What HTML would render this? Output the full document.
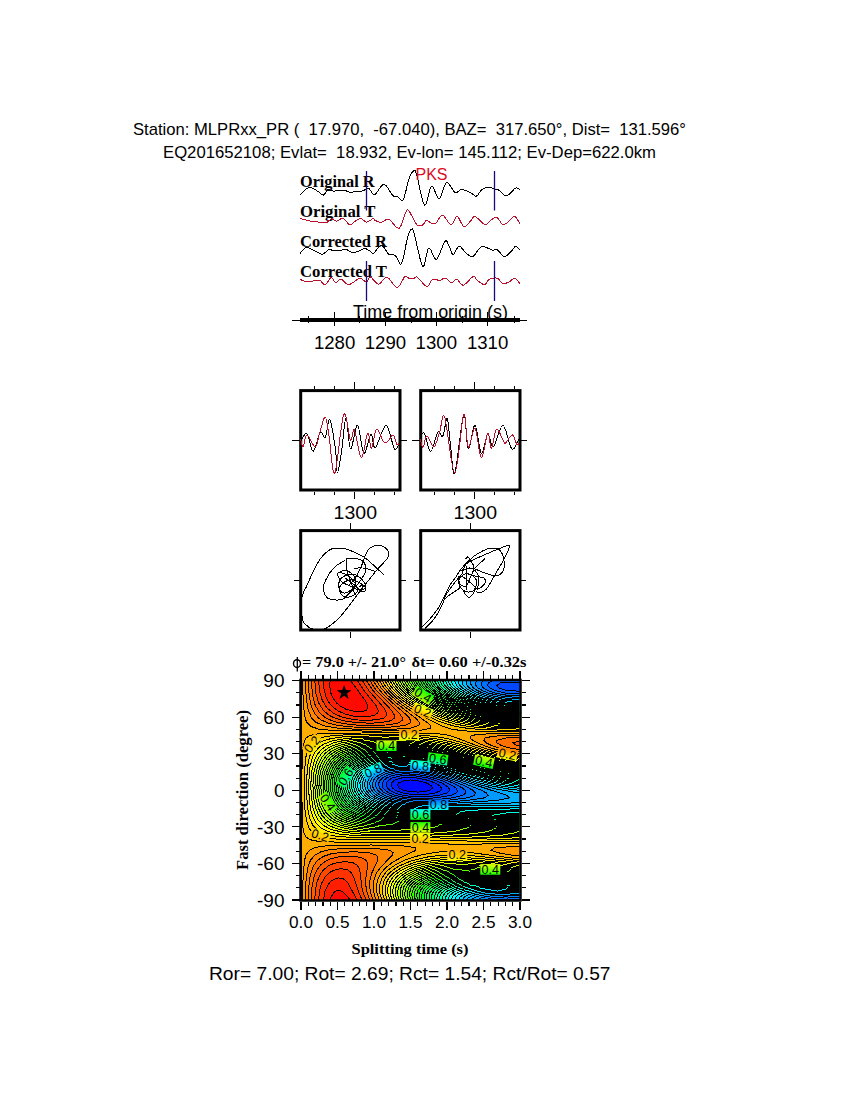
<!DOCTYPE html>
<html><head><meta charset="utf-8"><style>html,body{margin:0;padding:0;background:#fff;width:850px;height:1100px;overflow:hidden}svg{display:block}</style></head>
<body><svg width="850" height="1100" viewBox="0 0 850 1100">
<rect width="850" height="1100" fill="#fff"/>
<text x="133" y="134.9" font-family='"Liberation Sans", sans-serif' font-size="16.6" font-weight="normal" fill="#000" text-anchor="start" textLength="553" lengthAdjust="spacingAndGlyphs" xml:space="preserve">Station: MLPRxx_PR (  17.970,  -67.040), BAZ=  317.650°, Dist=  131.596°</text>
<text x="163" y="157.5" font-family='"Liberation Sans", sans-serif' font-size="16.6" font-weight="normal" fill="#000" text-anchor="start" textLength="493" lengthAdjust="spacingAndGlyphs" xml:space="preserve">EQ201652108; Evlat=  18.932, Ev-lon= 145.112; Ev-Dep=622.0km</text>
<text x="300" y="186.8" font-family='"Liberation Serif", serif' font-size="16" font-weight="bold" fill="#000" text-anchor="start" textLength="74.5" lengthAdjust="spacingAndGlyphs" >Original R</text>
<text x="300" y="216.6" font-family='"Liberation Serif", serif' font-size="16" font-weight="bold" fill="#000" text-anchor="start" textLength="75.5" lengthAdjust="spacingAndGlyphs" >Original T</text>
<text x="300" y="246.9" font-family='"Liberation Serif", serif' font-size="16" font-weight="bold" fill="#000" text-anchor="start" textLength="87" lengthAdjust="spacingAndGlyphs" >Corrected R</text>
<text x="300" y="276.6" font-family='"Liberation Serif", serif' font-size="16" font-weight="bold" fill="#000" text-anchor="start" textLength="87" lengthAdjust="spacingAndGlyphs" >Corrected T</text>
<path d="M300.2,194.9C301.7,193.7 306.2,188.0 309.1,187.4C312.0,186.8 315.2,189.9 317.6,191.2C320.0,192.5 321.5,195.4 323.2,195.2C324.9,195.0 326.2,190.5 327.9,189.8C329.6,189.1 332.0,191.1 333.6,191.2C335.2,191.3 335.5,190.3 337.4,190.2C339.3,190.1 342.9,190.1 344.9,190.5C346.9,190.9 348.4,192.1 349.6,192.4C350.9,192.7 350.5,192.3 352.4,192.1C354.3,191.9 359.0,191.5 360.9,191.2C362.8,190.9 362.5,190.8 363.8,190.4C365.1,190.0 367.1,187.8 368.9,188.5C370.7,189.2 372.1,195.3 374.6,194.6C377.1,193.9 380.9,184.1 384.0,184.3C387.1,184.5 390.6,193.6 392.9,195.6C395.2,197.6 395.9,195.9 397.6,196.5C399.3,197.1 401.4,202.3 403.3,199.4C405.2,196.5 407.2,183.8 408.9,179.1C410.5,174.4 411.9,172.1 413.2,171.2C414.5,170.3 414.6,168.3 416.5,173.9C418.4,179.5 422.0,202.9 424.5,205.0C427.0,207.1 429.1,187.2 431.5,186.2C433.9,185.1 436.7,199.3 439.2,198.7C441.7,198.1 444.0,183.5 446.6,182.5C449.2,181.5 452.6,191.3 455.1,192.5C457.6,193.7 459.0,189.4 461.5,189.4C464.0,189.4 467.4,191.2 469.9,192.3C472.4,193.4 474.4,196.6 476.3,196.2C478.2,195.8 479.5,191.4 481.6,189.9C483.7,188.4 486.9,187.3 489.0,187.2C491.1,187.1 492.7,188.6 494.3,189.1C495.9,189.6 496.7,188.8 498.5,189.9C500.3,191.0 503.1,194.8 504.9,195.5C506.7,196.2 507.3,195.6 509.1,194.4C510.9,193.2 513.7,188.9 515.5,188.1C517.3,187.3 519.0,189.3 519.7,189.6" fill="none" stroke="#000" stroke-width="1" shape-rendering="crispEdges"/>
<path d="M300.2,218.4C301.2,218.7 304.5,219.7 306.3,220.2C308.1,220.7 309.3,220.9 311.0,221.2C312.7,221.5 314.6,221.6 316.6,221.8C318.6,222.0 321.5,222.5 323.2,222.6C324.9,222.7 325.6,223.0 327.0,222.4C328.4,221.8 330.1,219.0 331.7,218.8C333.3,218.6 334.5,221.3 336.4,221.2C338.3,221.1 340.8,217.8 343.0,218.4C345.2,219.0 347.6,224.2 349.6,224.7C351.6,225.2 353.3,222.2 355.2,221.2C357.1,220.2 359.0,218.4 360.9,218.6C362.8,218.8 364.5,222.1 366.5,222.1C368.5,222.1 371.7,218.9 373.1,218.6C374.5,218.3 373.3,219.6 374.7,220.2C376.1,220.8 378.9,222.6 381.3,222.4C383.7,222.2 385.8,218.3 388.8,219.3C391.8,220.3 396.2,229.7 399.2,228.2C402.2,226.7 404.7,212.6 406.7,210.4C408.7,208.2 409.7,212.7 411.4,215.1C413.1,217.5 415.2,223.3 417.1,224.9C419.0,226.5 421.1,225.7 422.7,224.9C424.3,224.1 425.1,220.5 426.5,220.2C427.9,219.9 429.6,222.6 431.2,223.1C432.8,223.6 434.0,224.4 435.9,223.1C437.8,221.8 440.0,214.8 442.5,215.1C445.0,215.4 448.7,224.5 451.1,224.7C453.6,224.9 455.1,216.2 457.2,216.5C459.3,216.8 461.6,225.7 463.8,226.5C466.0,227.3 468.5,222.9 470.4,221.2C472.3,219.5 472.7,215.9 475.1,216.5C477.5,217.1 482.5,224.0 485.0,224.7C487.5,225.4 488.2,221.9 490.2,220.7C492.2,219.5 494.7,216.7 496.8,217.4C498.9,218.1 500.9,224.1 502.9,224.7C504.9,225.3 507.1,222.6 509.0,221.2C510.9,219.8 512.8,216.1 514.6,216.5C516.4,216.9 518.9,222.3 519.8,223.5" fill="none" stroke="#b8102a" stroke-width="1" shape-rendering="crispEdges"/>
<path d="M300.2,253.2C301.2,252.3 304.0,248.1 306.3,247.6C308.6,247.1 311.1,249.3 313.8,250.4C316.5,251.5 319.8,254.3 322.3,254.2C324.8,254.1 326.9,250.2 328.9,249.7C330.9,249.1 332.6,250.8 334.5,250.9C336.4,251.0 338.3,250.7 340.2,250.4C342.1,250.1 343.9,249.0 345.8,249.3C347.7,249.6 349.6,251.9 351.5,252.3C353.4,252.7 354.9,252.4 357.1,251.8C359.3,251.2 362.4,248.6 364.6,248.5C366.8,248.4 368.8,250.6 370.3,251.4C371.8,252.2 372.0,254.2 373.8,253.2C375.6,252.2 378.8,245.0 381.3,245.2C383.8,245.4 386.5,252.5 388.8,254.2C391.1,255.9 393.3,254.0 395.4,255.6C397.5,257.2 399.5,266.7 401.5,263.6C403.5,260.5 406.0,242.9 407.6,237.2C409.2,231.5 410.3,229.8 411.4,229.2C412.5,228.6 412.3,227.3 414.2,233.5C416.1,239.7 420.3,263.9 422.7,266.3C425.1,268.7 426.5,249.3 428.8,248.1C431.1,246.9 433.7,260.4 436.4,259.3C439.1,258.2 442.7,243.8 444.8,241.5C446.9,239.2 447.4,243.0 448.8,245.2C450.2,247.4 451.3,254.4 453.0,254.6C454.7,254.8 457.0,246.5 459.1,246.2C461.2,245.9 463.4,251.1 465.7,252.8C468.0,254.5 470.3,257.4 472.8,256.5C475.3,255.6 478.2,248.5 480.8,247.1C483.4,245.7 486.3,247.8 488.3,248.3C490.3,248.9 491.6,250.2 493.0,250.4C494.4,250.6 494.9,248.3 496.8,249.3C498.7,250.3 502.0,256.1 504.3,256.5C506.6,256.9 509.0,253.5 510.9,251.8C512.8,250.1 514.1,246.5 515.6,246.2C517.1,245.8 519.1,249.1 519.8,249.7" fill="none" stroke="#000" stroke-width="1" shape-rendering="crispEdges"/>
<path d="M300.2,279.3C300.9,279.6 302.4,280.9 304.4,281.2C306.3,281.5 309.4,281.4 311.9,281.2C314.4,281.0 317.3,279.6 319.5,280.2C321.7,280.8 323.2,285.2 325.1,284.7C327.1,284.2 329.5,277.8 331.2,277.4C332.9,277.0 333.9,282.3 335.5,282.6C337.1,282.9 338.9,279.0 341.1,279.3C343.3,279.6 345.5,284.9 348.6,284.7C351.7,284.5 356.9,278.8 359.9,278.4C362.9,278.0 364.8,282.4 366.5,282.1C368.2,281.9 368.3,276.5 370.3,276.9C372.3,277.2 375.7,284.2 378.5,284.2C381.3,284.2 383.8,276.6 386.9,277.1C390.0,277.7 394.3,287.6 397.3,287.5C400.3,287.4 402.9,278.1 404.8,276.5C406.7,274.9 407.2,277.7 408.6,278.1C410.0,278.5 411.9,279.2 413.3,279.0C414.7,278.8 414.8,275.9 417.1,277.1C419.4,278.4 424.3,286.1 426.9,286.5C429.5,286.9 430.5,280.3 432.6,279.3C434.7,278.3 437.5,280.6 439.6,280.4C441.7,280.2 443.3,277.7 445.3,278.1C447.3,278.5 449.7,282.4 451.6,282.6C453.5,282.8 454.8,278.9 456.8,279.3C458.8,279.7 460.7,285.7 463.4,285.2C466.1,284.7 470.9,277.3 473.2,276.5C475.5,275.7 475.1,278.8 477.0,280.2C478.9,281.6 482.5,284.8 484.5,284.7C486.5,284.6 487.0,280.4 489.2,279.3C491.4,278.2 495.5,277.7 497.7,278.4C499.9,279.1 500.5,282.7 502.4,283.3C504.3,283.9 507.0,283.0 509.0,282.1C511.0,281.2 512.8,277.9 514.6,278.1C516.4,278.3 518.9,282.6 519.8,283.5" fill="none" stroke="#b8102a" stroke-width="1" shape-rendering="crispEdges"/>
<text x="415.5" y="179.8" font-family='"Liberation Sans", sans-serif' font-size="16" font-weight="normal" fill="#dc0a1e" text-anchor="start" >PKS</text>
<line x1="366.5" y1="171" x2="366.5" y2="210.5" stroke="#160a7c" stroke-width="1.3"/>
<line x1="366.5" y1="261" x2="366.5" y2="301" stroke="#160a7c" stroke-width="1.3"/>
<line x1="494.5" y1="171" x2="494.5" y2="210.5" stroke="#160a7c" stroke-width="1.3"/>
<line x1="494.5" y1="261" x2="494.5" y2="301" stroke="#160a7c" stroke-width="1.3"/>
<text x="353" y="317.6" font-family='"Liberation Sans", sans-serif' font-size="18" font-weight="normal" fill="#000" text-anchor="start" textLength="155" lengthAdjust="spacingAndGlyphs" >Time from origin (s)</text>
<line x1="292" y1="320" x2="527" y2="320" stroke="#000" stroke-width="1" shape-rendering="crispEdges"/>
<rect x="300" y="318" width="220" height="4" fill="#000"/>
<line x1="334.6" y1="312" x2="334.6" y2="326" stroke="#000" stroke-width="1.2" shape-rendering="crispEdges"/>
<line x1="385.4" y1="312" x2="385.4" y2="326" stroke="#000" stroke-width="1.2" shape-rendering="crispEdges"/>
<line x1="436.3" y1="312" x2="436.3" y2="326" stroke="#000" stroke-width="1.2" shape-rendering="crispEdges"/>
<line x1="487.6" y1="312" x2="487.6" y2="326" stroke="#000" stroke-width="1.2" shape-rendering="crispEdges"/>
<line x1="308.4" y1="316" x2="308.4" y2="323" stroke="#000" stroke-width="1.2" shape-rendering="crispEdges"/>
<line x1="359.2" y1="316" x2="359.2" y2="323" stroke="#000" stroke-width="1.2" shape-rendering="crispEdges"/>
<line x1="411.4" y1="316" x2="411.4" y2="323" stroke="#000" stroke-width="1.2" shape-rendering="crispEdges"/>
<line x1="462.2" y1="316" x2="462.2" y2="323" stroke="#000" stroke-width="1.2" shape-rendering="crispEdges"/>
<line x1="514.5" y1="316" x2="514.5" y2="323" stroke="#000" stroke-width="1.2" shape-rendering="crispEdges"/>
<text x="313.90000000000003" y="348.6" font-family='"Liberation Sans", sans-serif' font-size="18.5" font-weight="normal" fill="#000" text-anchor="start" textLength="41.4" lengthAdjust="spacingAndGlyphs" >1280</text>
<text x="364.7" y="348.6" font-family='"Liberation Sans", sans-serif' font-size="18.5" font-weight="normal" fill="#000" text-anchor="start" textLength="41.4" lengthAdjust="spacingAndGlyphs" >1290</text>
<text x="415.6" y="348.6" font-family='"Liberation Sans", sans-serif' font-size="18.5" font-weight="normal" fill="#000" text-anchor="start" textLength="41.4" lengthAdjust="spacingAndGlyphs" >1300</text>
<text x="466.90000000000003" y="348.6" font-family='"Liberation Sans", sans-serif' font-size="18.5" font-weight="normal" fill="#000" text-anchor="start" textLength="41.4" lengthAdjust="spacingAndGlyphs" >1310</text>
<rect x="300.7" y="390.6" width="99.3" height="99.4" fill="none" stroke="#000" stroke-width="3"/>
<line x1="314.7" y1="386" x2="314.7" y2="389" stroke="#000" stroke-width="1.2" shape-rendering="crispEdges"/>
<line x1="314.7" y1="492" x2="314.7" y2="495" stroke="#000" stroke-width="1.2" shape-rendering="crispEdges"/>
<line x1="334.5" y1="386" x2="334.5" y2="389" stroke="#000" stroke-width="1.2" shape-rendering="crispEdges"/>
<line x1="334.5" y1="492" x2="334.5" y2="495" stroke="#000" stroke-width="1.2" shape-rendering="crispEdges"/>
<line x1="354.5" y1="382" x2="354.5" y2="389" stroke="#000" stroke-width="1.2" shape-rendering="crispEdges"/>
<line x1="354.5" y1="492" x2="354.5" y2="499" stroke="#000" stroke-width="1.2" shape-rendering="crispEdges"/>
<line x1="374.4" y1="386" x2="374.4" y2="389" stroke="#000" stroke-width="1.2" shape-rendering="crispEdges"/>
<line x1="374.4" y1="492" x2="374.4" y2="495" stroke="#000" stroke-width="1.2" shape-rendering="crispEdges"/>
<line x1="394.5" y1="386" x2="394.5" y2="389" stroke="#000" stroke-width="1.2" shape-rendering="crispEdges"/>
<line x1="394.5" y1="492" x2="394.5" y2="495" stroke="#000" stroke-width="1.2" shape-rendering="crispEdges"/>
<line x1="292" y1="440.4" x2="300" y2="440.4" stroke="#000" stroke-width="1.2" shape-rendering="crispEdges"/>
<line x1="401" y1="440.4" x2="407" y2="440.4" stroke="#000" stroke-width="1.2" shape-rendering="crispEdges"/>
<text x="333.6" y="519" font-family='"Liberation Sans", sans-serif' font-size="18.5" font-weight="normal" fill="#000" text-anchor="start" textLength="43.4" lengthAdjust="spacingAndGlyphs" >1300</text>
<rect x="420.7" y="390.6" width="99.3" height="99.4" fill="none" stroke="#000" stroke-width="3"/>
<line x1="434.7" y1="386" x2="434.7" y2="389" stroke="#000" stroke-width="1.2" shape-rendering="crispEdges"/>
<line x1="434.7" y1="492" x2="434.7" y2="495" stroke="#000" stroke-width="1.2" shape-rendering="crispEdges"/>
<line x1="454.5" y1="386" x2="454.5" y2="389" stroke="#000" stroke-width="1.2" shape-rendering="crispEdges"/>
<line x1="454.5" y1="492" x2="454.5" y2="495" stroke="#000" stroke-width="1.2" shape-rendering="crispEdges"/>
<line x1="474.5" y1="382" x2="474.5" y2="389" stroke="#000" stroke-width="1.2" shape-rendering="crispEdges"/>
<line x1="474.5" y1="492" x2="474.5" y2="499" stroke="#000" stroke-width="1.2" shape-rendering="crispEdges"/>
<line x1="494.4" y1="386" x2="494.4" y2="389" stroke="#000" stroke-width="1.2" shape-rendering="crispEdges"/>
<line x1="494.4" y1="492" x2="494.4" y2="495" stroke="#000" stroke-width="1.2" shape-rendering="crispEdges"/>
<line x1="514.5" y1="386" x2="514.5" y2="389" stroke="#000" stroke-width="1.2" shape-rendering="crispEdges"/>
<line x1="514.5" y1="492" x2="514.5" y2="495" stroke="#000" stroke-width="1.2" shape-rendering="crispEdges"/>
<line x1="412" y1="440.4" x2="420" y2="440.4" stroke="#000" stroke-width="1.2" shape-rendering="crispEdges"/>
<line x1="521" y1="440.4" x2="527" y2="440.4" stroke="#000" stroke-width="1.2" shape-rendering="crispEdges"/>
<text x="453.6" y="519" font-family='"Liberation Sans", sans-serif' font-size="18.5" font-weight="normal" fill="#000" text-anchor="start" textLength="43.4" lengthAdjust="spacingAndGlyphs" >1300</text>
<path d="M300.5,441.8C301.6,440.4 304.8,432.0 306.9,433.6C309.0,435.2 311.0,451.6 313.2,451.4C315.4,451.2 318.2,434.6 320.2,432.3C322.2,430.0 323.7,439.5 325.3,437.4C326.9,435.3 328.1,417.6 329.8,419.6C331.5,421.6 334.2,440.6 335.5,449.5C336.8,458.4 336.3,473.0 337.4,473.0C338.4,473.0 340.4,458.7 341.8,449.5C343.2,440.3 344.6,417.8 346.0,417.7C347.4,417.6 348.6,447.5 350.5,448.8C352.4,450.1 355.3,424.6 357.5,425.3C359.7,426.1 361.7,451.8 363.9,453.3C366.1,454.8 369.0,435.1 370.9,434.2C372.8,433.2 372.8,449.1 375.3,447.6C377.8,446.1 382.9,425.1 386.1,425.3C389.3,425.5 392.2,445.9 394.4,448.8C396.6,451.7 398.6,443.6 399.5,442.5" fill="none" stroke="#000" stroke-width="1" shape-rendering="crispEdges"/>
<path d="M300.5,438.7C300.9,440.1 302.0,447.5 303.1,446.9C304.2,446.3 304.9,434.9 306.9,434.9C308.9,434.9 313.1,447.2 315.2,446.9C317.3,446.6 317.9,438.0 319.6,433.0C321.3,428.0 323.7,416.5 325.3,417.1C326.9,417.7 327.5,427.5 329.1,436.8C330.7,446.1 332.4,476.7 334.8,473.0C337.2,469.3 341.1,420.0 343.7,414.5C346.3,409.0 348.7,437.4 350.5,440.0C352.3,442.6 352.6,426.9 354.4,429.8C356.2,432.8 359.1,457.1 361.3,457.7C363.5,458.3 366.0,434.9 367.7,433.3C369.4,431.7 370.0,448.9 371.5,448.2C373.0,447.5 374.6,430.2 376.6,429.1C378.6,428.0 381.7,439.8 383.6,441.8C385.5,443.8 386.4,442.4 388.0,441.2C389.6,440.0 391.6,434.4 393.1,434.9C394.6,435.4 395.8,443.1 396.9,444.4C398.0,445.7 399.1,442.8 399.5,442.5" fill="none" stroke="#b8102a" stroke-width="1" shape-rendering="crispEdges"/>
<path d="M420.5,436.8C421.1,436.3 422.7,431.2 424.4,433.6C426.1,436.0 428.5,451.6 430.7,451.4C432.9,451.2 435.7,434.9 437.7,432.3C439.7,429.8 441.2,438.4 442.8,436.1C444.4,433.8 445.9,417.3 447.2,418.7C448.5,420.1 449.1,435.3 450.4,444.4C451.7,453.4 452.6,477.9 454.8,473.0C457.0,468.1 461.5,419.2 463.7,415.2C465.9,411.2 466.3,447.1 468.2,448.8C470.1,450.5 472.8,424.6 475.0,425.3C477.2,426.1 479.2,451.8 481.3,453.3C483.4,454.8 485.7,435.3 487.7,434.2C489.7,433.1 490.9,448.4 493.4,446.9C495.9,445.4 499.8,425.0 502.9,425.3C506.0,425.6 509.2,446.5 511.8,448.8C514.5,451.1 517.6,440.9 518.8,439.3" fill="none" stroke="#000" stroke-width="1" shape-rendering="crispEdges"/>
<path d="M420.5,439.3C420.9,440.6 422.0,447.7 423.1,447.2C424.2,446.7 425.1,436.2 426.9,436.1C428.7,436.1 431.8,447.5 433.9,446.9C436.0,446.3 437.8,437.3 439.6,432.3C441.4,427.3 442.2,410.3 444.7,417.1C447.2,423.9 451.6,473.4 454.8,473.0C458.0,472.6 461.5,418.8 463.7,414.5C465.9,410.2 466.3,444.7 468.2,447.0C470.1,449.3 472.8,426.7 475.0,428.5C477.2,430.3 479.2,456.8 481.3,457.7C483.4,458.6 486.0,435.2 487.7,433.6C489.4,432.0 490.0,448.9 491.5,448.2C493.0,447.4 494.5,430.1 496.6,429.1C498.7,428.2 502.5,440.4 504.2,442.5C505.9,444.6 505.4,442.8 506.8,441.5C508.2,440.2 510.8,434.4 512.5,434.9C514.2,435.4 515.7,443.1 516.9,444.4C518.1,445.7 519.1,442.8 519.5,442.5" fill="none" stroke="#b8102a" stroke-width="1" shape-rendering="crispEdges"/>
<rect x="300.7" y="530.6" width="99.3" height="99.4" fill="none" stroke="#000" stroke-width="3"/>
<line x1="350.6" y1="523" x2="350.6" y2="529" stroke="#000" stroke-width="1.2" shape-rendering="crispEdges"/>
<line x1="350.6" y1="632" x2="350.6" y2="638" stroke="#000" stroke-width="1.2" shape-rendering="crispEdges"/>
<line x1="294" y1="580.4" x2="300" y2="580.4" stroke="#000" stroke-width="1.2" shape-rendering="crispEdges"/>
<line x1="401" y1="580.4" x2="406" y2="580.4" stroke="#000" stroke-width="1.2" shape-rendering="crispEdges"/>
<rect x="420.7" y="530.6" width="99.3" height="99.4" fill="none" stroke="#000" stroke-width="3"/>
<line x1="470.6" y1="523" x2="470.6" y2="529" stroke="#000" stroke-width="1.2" shape-rendering="crispEdges"/>
<line x1="470.6" y1="632" x2="470.6" y2="638" stroke="#000" stroke-width="1.2" shape-rendering="crispEdges"/>
<line x1="414" y1="580.4" x2="420" y2="580.4" stroke="#000" stroke-width="1.2" shape-rendering="crispEdges"/>
<line x1="521" y1="580.4" x2="526" y2="580.4" stroke="#000" stroke-width="1.2" shape-rendering="crispEdges"/>
<path d="M384.5,575.3C383.2,574.1 380.0,571.2 376.7,568.2C373.4,565.2 369.0,560.5 364.7,557.6C360.4,554.7 354.1,552.1 350.6,550.6C347.1,549.1 346.4,548.9 343.8,548.5C341.2,548.1 337.7,547.9 335.3,548.1C332.9,548.3 332.0,548.3 329.6,549.9C327.2,551.5 323.8,554.3 321.2,557.6C318.6,560.9 316.5,565.0 314.1,569.6C311.8,574.2 309.1,580.7 307.1,585.2C305.1,589.7 303.0,592.0 302.1,596.5C301.2,601.0 301.7,607.9 301.8,612.0C301.9,616.1 302.1,618.7 303.0,621.0C303.9,623.3 305.7,624.5 307.1,625.8C308.5,627.1 309.5,628.0 311.3,628.6C313.1,629.2 315.6,629.5 318.0,629.5C320.4,629.5 323.1,629.5 325.4,628.6C327.7,627.8 329.2,626.5 331.8,624.4C334.4,622.3 338.0,619.1 340.9,615.9C343.8,612.7 346.2,609.4 349.4,605.3C352.6,601.2 357.4,594.6 360.0,591.2C362.6,587.9 361.9,588.7 364.7,585.2C367.5,581.7 372.9,574.8 376.7,570.3C380.5,565.8 385.3,561.3 387.3,558.3C389.3,555.2 389.4,554.0 388.7,552.0C388.0,550.0 385.0,547.5 383.0,546.4C381.0,545.3 378.8,545.1 376.7,545.3C374.6,545.5 372.1,546.4 370.3,547.8C368.5,549.1 367.3,551.2 366.1,553.4C364.9,555.6 364.4,558.5 363.3,561.2C362.2,563.9 361.3,566.6 359.8,569.6C358.3,572.6 355.9,576.9 354.1,579.5C352.3,582.1 349.9,584.1 349.0,585.0" fill="none" stroke="#000" stroke-width="1" shape-rendering="crispEdges"/>
<path d="M346.6,558.3C347.1,558.3 347.7,558.2 349.4,558.3C351.1,558.4 354.8,558.3 356.9,558.7C359.0,559.1 360.5,559.4 361.9,560.5C363.3,561.6 364.8,563.5 365.4,565.4C366.0,567.3 366.1,569.4 365.4,571.8C364.7,574.1 362.7,577.1 361.2,579.5C359.7,581.9 358.2,583.6 356.2,585.9C354.2,588.1 351.7,590.8 349.4,593.0C347.1,595.2 345.5,598.2 342.3,599.3C339.1,600.3 333.1,599.9 330.3,599.3C327.5,598.7 326.6,597.5 325.4,595.5C324.2,593.5 323.5,589.0 323.3,587.0C323.1,585.0 322.9,586.1 324.0,583.8C325.1,581.5 327.5,576.3 329.6,573.2C331.7,570.1 334.1,567.5 336.7,565.4C339.3,563.3 343.8,561.3 345.2,560.5" fill="none" stroke="#000" stroke-width="1" shape-rendering="crispEdges"/>
<path d="M346.6,558.3C346.7,560.4 346.8,568.9 346.9,571.0" fill="none" stroke="#000" stroke-width="1" shape-rendering="crispEdges"/>
<path d="M354.1,568.2C355.9,568.2 361.1,567.6 364.7,568.2C368.3,568.8 374.1,571.2 376.0,571.8" fill="none" stroke="#000" stroke-width="1" shape-rendering="crispEdges"/>
<path d="M338.0,573.0C339.2,572.5 342.7,569.8 345.0,570.0C347.3,570.2 350.2,572.2 352.0,574.0C353.8,575.8 356.0,578.5 356.0,581.0C356.0,583.5 354.0,587.0 352.0,589.0C350.0,591.0 346.2,593.2 344.0,593.0C341.8,592.8 339.7,590.2 339.0,588.0C338.3,585.8 338.7,582.2 340.0,580.0C341.3,577.8 344.3,575.8 347.0,575.0C349.7,574.2 353.2,573.8 356.0,575.0C358.8,576.2 362.5,579.8 364.0,582.0C365.5,584.2 365.8,586.7 365.0,588.0C364.2,589.3 361.5,590.3 359.0,590.0C356.5,589.7 352.8,587.3 350.0,586.0C347.2,584.7 344.0,583.7 342.0,582.0C340.0,580.3 338.7,577.5 338.0,576.0C337.3,574.5 338.0,573.5 338.0,573.0" fill="none" stroke="#000" stroke-width="1" shape-rendering="crispEdges"/>
<path d="M340.0,572.0C341.7,572.8 347.3,574.8 350.0,577.0C352.7,579.2 354.8,582.5 356.0,585.0C357.2,587.5 357.7,590.2 357.0,592.0C356.3,593.8 354.0,595.2 352.0,596.0C350.0,596.8 347.0,597.7 345.0,597.0C343.0,596.3 340.7,594.0 340.0,592.0C339.3,590.0 339.3,587.0 341.0,585.0C342.7,583.0 347.2,580.5 350.0,580.0C352.8,579.5 355.8,581.0 358.0,582.0C360.2,583.0 362.7,584.3 363.0,586.0C363.3,587.7 360.5,591.0 360.0,592.0" fill="none" stroke="#000" stroke-width="1" shape-rendering="crispEdges"/>
<path d="M346.9,571.0C347.8,573.3 350.6,581.0 352.0,585.0C353.4,589.0 354.5,593.3 355.0,595.0" fill="none" stroke="#000" stroke-width="1" shape-rendering="crispEdges"/>
<path d="M345.0,578.0C347.0,579.5 354.0,584.7 357.0,587.0C360.0,589.3 361.5,591.7 363.0,592.0C364.5,592.3 366.0,590.2 366.0,589.0C366.0,587.8 364.2,585.3 363.0,585.0C361.8,584.7 359.7,586.7 359.0,587.0" fill="none" stroke="#000" stroke-width="1" shape-rendering="crispEdges"/>
<path d="M421.9,627.2C423.4,625.7 427.8,621.4 430.7,618.0C433.6,614.6 437.1,610.0 439.2,606.7C441.3,603.4 441.6,601.7 443.4,598.2C445.2,594.7 447.8,588.9 449.8,585.5C451.8,582.1 453.6,580.4 455.4,577.8C457.2,575.1 458.2,572.6 460.6,569.6C463.0,566.6 466.9,562.5 469.8,559.8C472.7,557.1 475.0,555.3 478.2,553.4C481.4,551.5 485.7,549.3 488.8,548.5C491.9,547.7 494.6,548.0 496.6,548.5C498.6,549.0 499.6,549.7 500.8,551.3C502.0,552.9 503.0,555.7 503.6,558.3C504.2,560.9 504.5,564.4 504.3,566.8C504.1,569.2 503.2,571.1 502.2,572.5C501.1,573.9 499.6,574.8 498.0,575.3C496.4,575.8 494.4,575.6 492.3,575.3C490.2,574.9 487.7,574.0 485.3,573.2C482.9,572.4 480.6,571.1 478.2,570.3C475.8,569.5 474.0,568.2 471.2,568.2C468.4,568.2 462.9,569.9 461.3,570.3" fill="none" stroke="#000" stroke-width="1" shape-rendering="crispEdges"/>
<path d="M425.1,628.6C426.6,627.0 431.5,622.4 434.2,618.7C436.9,615.1 439.3,610.7 441.3,606.7C443.3,602.7 444.4,598.1 446.2,594.7C448.0,591.3 450.0,588.8 451.9,586.2C453.8,583.6 455.9,581.2 457.5,579.2C459.1,577.2 460.4,576.7 461.8,574.2C463.2,571.7 463.5,566.8 466.2,564.0C468.9,561.2 474.3,559.5 478.2,557.6C482.1,555.7 486.0,554.2 489.5,552.7C493.0,551.2 496.2,549.7 499.4,548.5C502.6,547.3 507.1,545.2 508.6,545.3C510.1,545.4 509.4,546.8 508.6,549.2C507.8,551.6 505.4,556.4 503.6,559.8C501.8,563.2 499.9,566.3 498.0,569.6C496.1,572.9 494.2,576.3 492.3,579.5C490.4,582.7 488.7,586.5 486.7,588.7C484.7,590.9 482.1,592.4 480.3,592.9C478.5,593.4 476.8,591.7 476.1,591.5" fill="none" stroke="#000" stroke-width="1" shape-rendering="crispEdges"/>
<path d="M444.1,599.6C445.1,598.8 447.6,596.3 449.8,594.7C452.0,593.1 455.6,591.2 457.5,589.8C459.4,588.3 460.4,586.6 461.0,586.0" fill="none" stroke="#000" stroke-width="1" shape-rendering="crispEdges"/>
<path d="M485.3,558.3C483.5,559.9 476.5,566.6 474.7,568.2" fill="none" stroke="#000" stroke-width="1" shape-rendering="crispEdges"/>
<path d="M461.0,571.0C462.5,570.5 467.3,567.7 470.0,568.0C472.7,568.3 475.5,570.8 477.0,573.0C478.5,575.2 479.2,578.3 479.0,581.0C478.8,583.7 477.8,587.2 476.0,589.0C474.2,590.8 470.5,592.2 468.0,592.0C465.5,591.8 462.5,590.0 461.0,588.0C459.5,586.0 458.3,582.3 459.0,580.0C459.7,577.7 462.7,574.7 465.0,574.0C467.3,573.3 471.0,574.5 473.0,576.0C475.0,577.5 476.8,580.7 477.0,583.0C477.2,585.3 474.5,588.8 474.0,590.0" fill="none" stroke="#000" stroke-width="1" shape-rendering="crispEdges"/>
<path d="M463.2,591.2C464.1,592.2 467.0,597.3 468.8,597.5C470.6,597.7 472.7,594.1 473.8,592.6C474.9,591.1 474.3,589.5 475.4,588.7C476.5,587.9 478.6,589.1 480.3,588.0C482.0,586.9 484.7,583.9 485.3,582.3C485.9,580.6 485.5,579.1 483.9,578.1C482.2,577.1 478.0,576.7 475.4,576.0C472.8,575.3 469.2,574.3 468.0,574.0" fill="none" stroke="#000" stroke-width="1" shape-rendering="crispEdges"/>
<path d="M465.5,559.0C465.9,558.7 466.8,556.8 467.6,557.0C468.4,557.2 469.4,558.7 470.5,560.5C471.6,562.3 474.1,565.1 474.0,568.0C473.9,570.9 471.3,575.0 470.0,578.0C468.7,581.0 467.7,585.0 466.0,586.0C464.3,587.0 461.3,585.7 460.0,584.0C458.7,582.3 458.3,577.3 458.0,576.0" fill="none" stroke="#000" stroke-width="1" shape-rendering="crispEdges"/>
<path d="M462.0,576.0C463.7,577.3 469.3,581.7 472.0,584.0C474.7,586.3 477.0,589.0 478.0,590.0" fill="none" stroke="#000" stroke-width="1" shape-rendering="crispEdges"/>
<path d="M466.0,566.0C466.0,570.0 466.0,586.0 466.0,590.0" fill="none" stroke="#000" stroke-width="1" shape-rendering="crispEdges"/>
<defs><clipPath id="mclip"><rect x="301.6" y="681.1" width="217.8" height="218.6"/></clipPath><mask id="lmask" maskUnits="userSpaceOnUse" x="290" y="670" width="240" height="240"><rect x="290" y="670" width="240" height="240" fill="#fff"/><rect transform="translate(422.9,695.4) rotate(31)" x="-10" y="-5.3" width="20" height="10.6" fill="#000"/><rect transform="translate(422.6,710.9) rotate(22)" x="-10" y="-5.3" width="20" height="10.6" fill="#000"/><rect transform="translate(409.1,734.9) rotate(0)" x="-10" y="-5.3" width="20" height="10.6" fill="#000"/><rect transform="translate(386.5,745.7) rotate(0)" x="-10" y="-5.3" width="20" height="10.6" fill="#000"/><rect transform="translate(312.0,744.2) rotate(-50)" x="-10" y="-5.3" width="20" height="10.6" fill="#000"/><rect transform="translate(437.8,758.9) rotate(8)" x="-10" y="-5.3" width="20" height="10.6" fill="#000"/><rect transform="translate(420.3,765.9) rotate(5)" x="-10" y="-5.3" width="20" height="10.6" fill="#000"/><rect transform="translate(483.9,761.7) rotate(12)" x="-10" y="-5.3" width="20" height="10.6" fill="#000"/><rect transform="translate(507.4,754.2) rotate(12)" x="-10" y="-5.3" width="20" height="10.6" fill="#000"/><rect transform="translate(345.8,776.9) rotate(-57)" x="-10" y="-5.3" width="20" height="10.6" fill="#000"/><rect transform="translate(373.1,770.9) rotate(-25)" x="-10" y="-5.3" width="20" height="10.6" fill="#000"/><rect transform="translate(327.8,802.5) rotate(54)" x="-10" y="-5.3" width="20" height="10.6" fill="#000"/><rect transform="translate(438.5,804.7) rotate(0)" x="-10" y="-5.3" width="20" height="10.6" fill="#000"/><rect transform="translate(420.4,814.4) rotate(0)" x="-10" y="-5.3" width="20" height="10.6" fill="#000"/><rect transform="translate(420.4,827.4) rotate(0)" x="-10" y="-5.3" width="20" height="10.6" fill="#000"/><rect transform="translate(420.1,838.4) rotate(0)" x="-10" y="-5.3" width="20" height="10.6" fill="#000"/><rect transform="translate(320.2,835.3) rotate(18)" x="-10" y="-5.3" width="20" height="10.6" fill="#000"/><rect transform="translate(457.3,854.9) rotate(0)" x="-10" y="-5.3" width="20" height="10.6" fill="#000"/><rect transform="translate(490.3,869.4) rotate(0)" x="-10" y="-5.3" width="20" height="10.6" fill="#000"/></mask></defs><rect x="301" y="680.5" width="219" height="219.79999999999995" fill="#ff0a00"/><g fill-rule="evenodd"><path fill="#ff1f00" d="M520.0,900.3 350.5,900.3 345.8,894.5 343.3,892.2 340.8,890.9 338.3,890.4 335.8,891.1 333.4,893.0 330.9,897.5 330.2,900.3 301.0,900.3 301.0,680.5 330.2,680.5 329.7,685.5 330.8,693.0 332.9,698.0 336.6,703.0 340.8,706.5 345.8,709.1 350.8,710.7 358.2,711.7 363.2,711.3 365.9,710.5 368.0,708.0 367.9,705.5 365.3,700.5 350.5,680.5 520.0,680.5 520.0,900.3Z"/><path fill="#ff3300" d="M520.0,900.3 357.3,900.3 347.8,882.8 345.8,880.6 343.3,878.9 338.3,877.9 333.4,879.5 330.9,881.3 328.4,884.0 325.2,890.3 323.4,900.3 301.0,900.3 301.0,680.5 323.4,680.5 323.7,688.0 325.9,696.8 329.2,703.0 333.4,707.6 338.3,711.1 345.8,714.2 353.3,716.0 363.2,716.8 368.2,716.6 374.2,715.5 377.8,713.0 378.3,710.5 376.0,705.5 364.0,690.5 357.3,680.5 520.0,680.5 520.0,900.3Z"/><path fill="#ff4700" d="M520.0,900.3 362.3,900.3 358.9,892.8 354.1,877.8 351.4,872.8 348.3,870.2 345.8,869.3 340.8,868.7 335.8,869.5 330.9,871.7 328.4,873.5 324.5,877.8 321.9,882.8 320.2,887.8 319.2,892.8 318.7,900.3 301.0,900.3 301.0,680.5 318.7,680.5 319.4,690.5 322.3,700.5 327.0,708.0 333.4,713.2 340.8,716.6 348.3,718.6 358.2,720.0 368.2,720.4 378.1,719.5 383.8,718.0 386.5,715.5 386.7,713.0 384.0,708.0 368.8,690.5 362.3,680.5 520.0,680.5 520.0,900.3Z"/><path fill="#ff5c00" d="M520.0,900.3 366.4,900.3 364.1,895.3 361.9,887.8 360.2,872.8 359.0,867.8 357.2,865.3 353.3,862.9 345.8,861.7 338.3,862.3 333.4,863.6 328.4,865.9 323.0,870.3 319.6,875.3 316.8,882.8 315.3,890.3 314.8,900.3 301.0,900.3 301.0,680.5 314.8,680.5 315.8,693.0 318.7,703.0 323.4,710.5 329.4,715.5 335.8,718.5 345.8,721.2 358.2,722.7 370.7,723.2 380.6,722.7 390.6,720.8 394.5,718.0 394.6,715.5 391.7,710.5 372.9,690.5 366.4,680.5 520.0,680.5 520.0,900.3Z"/><path fill="#ff7000" d="M520.0,900.3 370.0,900.3 367.1,892.8 365.8,885.3 365.9,877.8 367.4,867.8 367.4,862.8 366.1,860.3 361.8,857.8 355.8,856.6 348.3,856.2 338.3,857.0 330.9,858.8 325.9,860.9 320.9,864.6 316.6,870.3 313.7,877.8 311.9,887.8 311.3,900.3 301.0,900.3 301.0,680.5 311.3,680.5 312.6,695.5 315.3,705.5 319.8,713.0 325.8,718.0 333.4,721.3 343.3,723.6 355.8,725.0 370.7,725.5 385.6,725.0 395.6,723.6 398.3,723.0 402.1,720.5 402.5,718.0 399.3,713.0 378.7,693.0 374.6,688.0 370.0,680.5 520.0,680.5 520.0,740.8 512.8,742.9 516.6,745.4 520.0,746.0 520.0,900.3Z"/><path fill="#ff8500" d="M520.0,900.3 373.3,900.3 371.3,895.3 370.1,890.3 369.6,885.3 369.9,880.3 371.9,872.8 377.7,860.3 378.1,857.8 376.6,855.3 370.7,853.1 363.2,852.2 353.3,851.8 340.8,852.4 330.9,853.9 323.4,856.4 317.5,860.3 313.4,865.9 310.3,875.3 308.6,887.8 308.2,900.3 301.0,900.3 301.0,680.5 308.2,680.5 309.2,695.5 311.1,705.5 314.3,713.0 318.4,718.0 320.9,719.8 328.4,723.3 338.3,725.5 353.3,727.0 373.2,727.6 390.6,727.1 404.7,725.5 410.0,723.0 410.5,720.5 409.3,718.0 407.1,715.5 390.6,701.2 382.1,693.0 376.2,685.5 373.3,680.5 520.0,680.5 520.0,737.3 506.7,737.9 496.9,740.4 496.9,742.9 501.1,745.4 508.9,747.9 520.0,749.7 520.0,900.3Z"/><path fill="#ff9900" d="M520.0,900.3 376.4,900.3 374.4,895.3 373.1,887.8 373.4,882.8 374.5,877.8 376.7,872.8 380.1,867.8 392.2,855.3 393.1,852.8 389.8,850.3 385.6,849.6 375.7,848.6 358.2,848.1 340.8,848.6 328.4,849.9 320.9,851.8 314.5,855.3 310.5,860.3 308.5,865.3 307.3,870.3 305.8,882.8 305.4,900.3 301.0,900.3 301.0,680.5 305.4,680.5 306.2,698.0 308.3,710.5 311.6,718.0 315.9,722.3 323.4,725.7 335.8,727.9 353.3,729.1 375.7,729.4 395.6,729.1 410.9,728.0 418.8,725.5 419.4,723.0 417.9,720.5 415.4,718.0 395.6,702.5 387.7,695.5 381.1,688.0 376.4,680.5 520.0,680.5 520.0,735.0 502.7,735.5 492.6,736.4 485.0,737.9 483.7,740.4 486.4,742.9 491.3,745.4 498.2,747.9 508.5,750.4 520.0,751.9 520.0,900.3Z"/><path fill="#ffad00" d="M520.0,900.3 379.3,900.3 376.8,892.8 376.4,885.3 378.1,878.5 381.2,872.8 385.6,867.8 393.1,861.9 403.0,856.5 415.9,850.3 415.3,847.8 405.5,846.1 395.6,845.3 370.7,845.0 325.9,845.9 315.9,847.3 313.4,848.1 309.3,850.3 306.0,855.1 304.5,860.3 303.1,875.3 302.7,900.3 301.0,900.3 301.0,680.5 302.7,680.5 303.2,703.0 304.6,715.5 306.0,720.5 307.3,723.0 311.0,726.5 318.4,729.0 328.4,730.1 345.8,730.9 375.7,731.1 417.9,730.5 425.4,729.6 430.8,728.0 430.5,725.5 427.9,723.0 400.5,703.7 390.8,695.5 384.0,688.0 379.3,680.5 520.0,680.5 520.0,733.3 492.6,733.6 477.7,734.5 471.4,735.5 470.0,737.9 473.0,740.4 477.5,742.9 490.2,747.9 505.1,751.7 520.0,753.7 520.0,846.0 494.3,847.8 491.2,850.3 498.4,852.8 512.2,855.3 520.0,856.1 520.0,900.3Z"/><path fill="#ffc200" d="M520.0,731.8 467.7,731.1 452.8,729.5 445.3,727.3 437.9,724.1 427.9,718.9 415.5,711.5 403.0,703.1 396.6,698.0 390.6,692.3 385.0,685.5 382.1,680.5 520.0,680.5 520.0,731.8ZM520.0,843.4 457.8,844.4 408.0,842.3 340.8,842.3 318.4,841.3 312.5,840.4 308.5,838.9 306.0,836.8 304.0,832.9 303.0,827.9 302.3,817.9 301.8,790.4 302.1,760.4 302.9,747.9 304.6,740.4 306.1,737.9 309.9,735.5 315.9,734.1 323.4,733.5 385.6,732.7 437.9,733.7 445.3,734.6 452.8,736.4 476.2,745.4 491.7,750.4 505.1,753.4 520.0,755.3 520.0,843.4ZM520.0,900.3 382.1,900.3 379.7,892.8 379.6,885.3 382.0,877.8 385.5,872.8 387.9,870.3 395.6,864.6 405.5,859.8 413.0,857.2 422.9,854.6 437.9,852.1 452.8,851.2 465.2,851.8 509.6,857.8 520.0,858.7 520.0,900.3Z"/><path fill="#ffd600" d="M520.0,730.4 490.1,729.9 470.2,728.7 455.3,726.5 440.4,721.9 430.4,717.4 420.5,712.1 403.0,700.7 396.6,695.5 391.6,690.5 387.7,685.5 384.8,680.5 520.0,680.5 520.0,730.4ZM520.0,841.4 475.2,841.2 410.5,839.7 350.8,839.9 330.9,838.7 323.4,837.4 316.9,835.4 312.8,832.9 308.9,827.9 306.5,820.4 305.0,810.4 304.2,790.4 304.6,770.4 306.0,756.6 308.3,747.9 311.5,742.9 315.9,739.6 323.4,737.1 330.9,735.9 345.8,734.8 365.7,734.3 413.0,734.7 432.9,736.2 447.8,738.7 457.8,741.4 485.4,750.4 495.0,752.9 508.2,755.4 520.0,756.7 520.0,841.4ZM520.0,900.3 384.8,900.3 382.4,892.8 382.2,887.8 384.2,880.3 387.4,875.3 390.6,871.9 398.1,866.5 410.5,861.1 425.4,857.3 437.9,855.6 455.3,854.9 475.2,856.0 520.0,860.7 520.0,900.3Z"/><path fill="#ffeb00" d="M520.0,729.1 492.6,728.5 470.2,726.7 455.3,724.1 440.4,719.5 422.9,711.4 405.6,700.5 399.4,695.5 394.3,690.5 390.3,685.5 387.4,680.5 520.0,680.5 520.0,729.1ZM520.0,839.7 420.5,837.6 353.3,837.7 333.4,835.9 322.2,832.9 317.7,830.4 312.9,825.4 309.6,817.9 308.0,810.4 306.6,795.4 306.7,777.9 308.1,762.9 310.7,752.9 313.4,747.9 318.4,743.2 323.4,740.7 330.9,738.6 340.8,737.1 355.8,736.1 398.1,735.8 420.5,736.9 440.4,739.4 452.8,742.3 490.1,753.2 505.1,756.3 520.0,758.0 520.0,839.7ZM520.0,900.3 387.4,900.3 385.1,892.8 385.0,887.8 387.4,880.3 390.6,875.8 393.6,872.8 403.0,866.8 415.5,862.1 430.4,858.9 445.3,857.5 462.8,857.4 482.7,858.8 520.0,862.3 520.0,900.3Z"/><path fill="#ffff00" d="M520.0,727.9 495.1,727.3 475.2,725.7 457.8,722.7 442.9,718.4 425.4,710.7 418.0,706.6 408.5,700.5 402.1,695.5 396.8,690.5 392.8,685.5 389.9,680.5 520.0,680.5 520.0,727.9ZM520.0,838.2 427.9,835.9 360.7,835.9 340.8,834.4 328.4,831.6 321.0,827.9 316.0,822.9 313.2,817.9 310.8,810.4 309.1,797.9 308.7,782.9 309.9,767.9 312.3,757.9 314.5,752.9 318.4,747.9 323.4,744.3 330.9,741.3 340.8,739.2 353.3,737.8 385.6,736.9 410.5,737.7 432.9,740.0 452.8,744.1 493.6,755.4 507.5,757.9 520.0,759.2 520.0,838.2ZM520.0,900.3 389.9,900.3 387.7,892.8 387.8,887.8 389.3,882.8 392.4,877.8 395.6,874.5 400.5,870.8 405.5,868.1 413.0,865.1 427.9,861.4 445.3,859.4 462.8,859.3 520.0,863.7 520.0,900.3Z"/><path fill="#ebff00" d="M520.0,726.9 495.1,726.1 475.2,724.3 457.8,721.1 442.9,716.6 425.4,709.0 410.5,699.9 404.7,695.5 399.4,690.5 395.2,685.5 392.3,680.5 520.0,680.5 520.0,726.9ZM520.0,836.8 430.4,834.4 363.2,834.2 343.3,832.4 330.9,829.4 323.4,825.4 318.4,820.4 315.5,815.4 313.0,807.9 311.1,795.4 310.9,782.9 312.0,770.4 314.4,760.4 316.7,755.4 320.9,749.9 325.9,746.2 333.4,743.0 340.8,741.1 353.3,739.4 383.1,738.2 410.5,739.0 432.9,741.5 447.8,744.5 492.6,756.5 505.1,758.7 520.0,760.4 520.0,836.8ZM520.0,900.3 392.3,900.3 390.6,895.3 390.2,890.3 391.1,885.3 392.2,882.8 395.6,878.0 398.1,875.5 405.5,870.5 415.5,866.4 427.9,863.3 442.9,861.4 460.3,860.9 480.2,861.8 520.0,865.1 520.0,900.3Z"/><path fill="#d6ff00" d="M520.0,725.8 495.1,724.9 475.2,722.9 457.8,719.6 442.9,715.0 425.4,707.3 410.5,698.0 404.4,693.0 400.5,689.1 397.6,685.5 394.7,680.5 520.0,680.5 520.0,725.8ZM520.0,835.5 430.4,832.9 365.7,832.5 348.3,831.1 340.8,829.7 334.5,827.9 328.4,825.1 322.4,820.4 318.7,815.4 315.6,807.9 313.6,797.9 312.9,785.4 313.8,772.9 316.3,762.9 318.5,757.9 322.0,752.9 328.1,747.9 333.4,745.4 340.8,743.1 350.8,741.2 365.7,739.9 380.6,739.4 405.5,740.0 430.4,742.6 450.3,746.6 493.8,757.9 507.6,760.2 520.0,761.4 520.0,835.5ZM520.0,900.3 394.7,900.3 393.1,895.3 392.7,890.3 393.9,885.3 395.6,882.0 399.0,877.8 403.0,874.5 408.0,871.6 415.5,868.4 430.4,864.6 445.3,862.8 462.8,862.4 480.2,863.2 520.0,866.3 520.0,900.3Z"/><path fill="#c2ff00" d="M520.0,724.8 497.6,724.0 477.7,722.0 460.3,718.8 445.3,714.4 427.9,706.9 413.1,698.0 403.0,689.2 400.0,685.5 397.1,680.5 520.0,680.5 520.0,724.8ZM520.0,834.4 437.9,831.7 368.2,831.0 350.8,829.5 338.3,826.7 330.9,823.5 325.9,819.8 322.0,815.4 318.2,807.9 315.8,797.9 314.9,787.9 315.6,775.4 317.9,765.4 321.4,757.9 325.6,752.9 330.9,749.1 335.8,746.7 343.3,744.3 353.3,742.4 365.7,741.2 380.6,740.6 408.0,741.3 430.4,743.9 447.8,747.4 490.1,758.3 505.1,761.0 520.0,762.5 520.0,834.4ZM520.0,900.3 397.1,900.3 395.5,895.3 395.3,890.3 396.6,885.3 397.9,882.8 400.5,879.5 405.5,875.3 415.5,870.3 430.4,866.2 445.3,864.3 462.8,863.8 477.7,864.4 520.0,867.5 520.0,900.3Z"/><path fill="#adff00" d="M520.0,723.8 497.6,722.9 477.7,720.9 460.3,717.5 445.3,713.0 430.4,706.7 415.7,698.0 405.5,689.3 402.3,685.5 399.4,680.5 520.0,680.5 520.0,723.8ZM520.0,833.2 437.9,830.4 370.7,829.7 353.3,828.1 340.8,825.3 333.4,822.0 327.6,817.9 323.4,812.9 319.8,805.4 317.9,797.9 316.9,787.9 317.4,777.9 319.4,767.9 322.7,760.4 326.5,755.4 330.9,751.7 337.9,747.9 345.8,745.4 355.8,743.5 368.2,742.3 380.6,741.7 405.5,742.3 427.9,744.7 447.8,748.6 492.6,759.9 507.6,762.4 520.0,763.5 520.0,833.2ZM520.0,900.3 399.4,900.3 397.9,895.3 397.8,890.3 399.3,885.3 400.8,882.8 403.0,880.1 408.0,876.1 418.0,871.2 432.9,867.3 447.8,865.5 465.2,865.1 520.0,868.6 520.0,900.3Z"/><path fill="#99ff00" d="M520.0,722.8 497.6,721.9 477.7,719.7 460.3,716.3 445.3,711.6 430.4,705.1 418.0,697.8 408.0,689.5 404.6,685.5 401.7,680.5 520.0,680.5 520.0,722.8ZM520.0,832.1 440.4,829.3 373.2,828.4 355.8,826.8 343.3,824.0 335.8,820.8 330.9,817.5 325.9,812.2 322.2,805.4 320.0,797.9 318.9,787.9 319.4,777.9 320.9,770.4 323.9,762.9 327.3,757.9 330.9,754.4 337.1,750.4 343.3,747.9 353.3,745.4 365.7,743.7 378.1,742.9 403.0,743.3 427.9,745.9 445.3,749.2 490.1,760.5 505.1,763.1 520.0,764.5 520.0,832.1ZM520.0,900.3 401.7,900.3 400.2,895.3 400.0,892.8 400.9,887.8 402.0,885.3 405.9,880.3 413.0,875.3 422.9,871.2 435.4,868.3 447.8,866.9 465.2,866.4 482.7,867.1 520.0,869.6 520.0,900.3Z"/><path fill="#85ff00" d="M520.0,721.9 500.1,721.1 480.2,719.0 465.2,716.3 447.8,711.2 432.9,704.9 420.5,697.8 410.5,689.6 406.9,685.5 404.0,680.5 520.0,680.5 520.0,721.9ZM520.0,831.0 440.4,828.2 375.7,827.1 358.2,825.5 345.8,822.8 338.3,819.7 333.4,816.6 328.4,811.6 324.6,805.4 322.1,797.9 320.9,787.9 321.4,777.9 323.1,770.4 326.4,762.9 330.2,757.9 335.8,753.4 340.8,750.7 348.3,748.0 358.2,745.9 368.2,744.7 380.6,744.0 405.5,744.5 427.9,747.0 447.8,751.0 490.1,761.5 505.1,764.1 520.0,765.5 520.0,831.0ZM520.0,900.3 404.0,900.3 402.6,895.3 402.4,892.8 403.4,887.8 404.7,885.3 409.1,880.3 417.0,875.3 425.4,872.1 437.9,869.3 450.3,868.0 465.2,867.6 485.2,868.3 520.0,870.7 520.0,900.3Z"/><path fill="#70ff00" d="M520.0,721.0 497.6,720.0 480.2,718.0 462.8,714.5 447.8,710.0 432.9,703.5 420.5,696.0 411.2,688.0 406.3,680.5 520.0,680.5 520.0,721.0ZM520.0,830.0 445.3,827.2 378.1,826.0 360.7,824.4 348.3,821.7 340.8,818.7 335.4,815.4 330.2,810.4 327.0,805.4 324.2,797.9 323.0,790.4 323.0,780.4 324.4,772.9 327.4,765.4 330.8,760.4 335.8,755.7 340.8,752.7 348.3,749.7 358.2,747.2 368.2,745.9 380.6,745.1 403.0,745.4 425.4,747.7 445.3,751.5 492.1,762.9 507.6,765.4 520.0,766.5 520.0,830.0ZM520.0,900.3 406.3,900.3 404.9,895.3 404.8,892.8 406.0,887.8 407.4,885.3 412.2,880.3 420.5,875.6 428.4,872.8 440.4,870.3 452.8,869.0 467.7,868.7 487.6,869.6 520.0,871.7 520.0,900.3Z"/><path fill="#5cff00" d="M520.0,720.1 500.1,719.2 480.2,717.0 465.2,714.0 450.3,709.6 434.6,703.0 422.1,695.5 413.5,688.0 408.6,680.5 520.0,680.5 520.0,720.1ZM520.0,828.9 447.8,826.2 380.6,824.9 363.2,823.3 350.8,820.6 343.3,817.8 335.8,813.1 331.0,807.9 328.4,803.4 325.7,795.4 324.7,787.9 324.9,780.4 326.4,772.9 329.7,765.4 333.4,760.5 338.3,756.2 343.3,753.3 350.8,750.4 360.7,748.1 370.7,746.8 383.1,746.0 405.5,746.5 427.9,749.1 445.3,752.5 490.1,763.5 505.1,766.0 520.0,767.5 520.0,828.9ZM520.0,900.3 408.6,900.3 407.2,895.3 407.2,892.8 408.6,887.8 410.2,885.3 415.5,880.3 419.7,877.8 425.4,875.3 437.9,872.1 452.8,870.3 467.7,869.8 520.0,872.7 520.0,900.3Z"/><path fill="#47ff00" d="M520.0,719.2 500.1,718.3 482.7,716.3 465.2,712.9 450.3,708.4 437.4,703.0 424.5,695.5 415.8,688.0 410.8,680.5 520.0,680.5 520.0,719.2ZM520.0,827.9 447.8,825.2 383.1,823.8 365.7,822.2 353.3,819.7 345.8,817.0 338.8,812.9 333.6,807.9 330.9,803.7 328.4,797.9 326.8,790.4 326.6,782.9 327.7,775.4 330.5,767.9 333.8,762.9 338.3,758.5 343.3,755.2 350.8,752.0 360.7,749.4 370.7,747.9 383.1,747.1 403.0,747.3 425.4,749.7 445.3,753.6 490.1,764.5 505.1,767.0 520.0,768.4 520.0,827.9ZM520.0,900.3 410.8,900.3 409.6,895.3 409.6,892.8 411.2,887.8 412.9,885.3 418.8,880.3 427.9,876.1 440.4,873.0 455.3,871.3 470.2,871.0 520.0,873.6 520.0,900.3Z"/><path fill="#33ff00" d="M520.0,718.3 500.1,717.4 482.7,715.4 467.7,712.5 452.8,708.1 437.9,701.8 427.0,695.5 418.1,688.0 415.5,684.7 413.1,680.5 520.0,680.5 520.0,718.3ZM520.0,826.9 450.3,824.2 385.6,822.8 368.2,821.3 355.8,818.8 348.3,816.2 342.1,812.9 336.3,807.9 332.7,802.9 330.4,797.9 328.7,790.4 328.5,782.9 329.7,775.4 332.7,767.9 335.8,763.5 340.8,758.8 346.4,755.4 353.3,752.7 361.9,750.4 370.7,749.1 383.1,748.1 403.0,748.3 425.4,750.7 445.3,754.6 490.1,765.5 505.1,767.9 520.0,769.4 520.0,826.9ZM520.0,900.3 413.1,900.3 411.9,895.3 412.0,892.8 413.9,887.8 415.8,885.3 422.3,880.3 430.4,876.8 442.9,873.8 455.3,872.4 470.2,872.0 520.0,874.5 520.0,900.3Z"/><path fill="#1fff00" d="M520.0,717.4 500.1,716.5 482.7,714.4 467.7,711.4 452.8,706.9 440.4,701.7 429.4,695.5 420.4,688.0 416.6,683.0 415.4,680.5 520.0,680.5 520.0,717.4ZM520.0,825.9 450.3,823.2 388.1,821.8 370.7,820.3 358.2,817.9 350.6,815.4 343.3,811.5 339.0,807.9 335.0,802.9 332.5,797.9 330.6,790.4 330.3,782.9 331.6,775.4 334.9,767.9 338.3,763.4 343.3,759.2 348.3,756.2 355.8,753.3 363.2,751.4 373.2,749.9 385.6,749.0 405.5,749.4 425.4,751.7 442.9,755.0 490.1,766.4 505.1,768.9 520.0,770.3 520.0,825.9ZM520.0,900.3 415.4,900.3 414.3,895.3 415.2,890.3 418.7,885.3 425.4,880.6 432.9,877.5 442.9,875.1 455.3,873.6 467.7,873.1 485.2,873.4 520.0,875.5 520.0,900.3Z"/><path fill="#0aff00" d="M520.0,716.6 502.6,715.8 485.2,713.8 470.2,711.0 455.3,706.7 442.9,701.6 431.9,695.5 422.7,688.0 418.9,683.0 417.7,680.5 520.0,680.5 520.0,716.6ZM520.0,824.9 450.3,822.2 390.6,820.8 373.2,819.4 360.7,817.1 353.3,814.8 345.8,811.0 340.8,807.0 337.3,802.9 334.6,797.9 332.5,790.4 332.2,782.9 332.9,777.9 334.5,772.9 338.3,766.3 343.3,761.2 348.4,757.9 355.8,754.7 363.2,752.7 373.2,751.0 385.6,750.0 405.5,750.4 425.4,752.6 442.9,756.0 490.1,767.4 505.1,769.8 520.0,771.3 520.0,824.9ZM520.0,900.3 417.7,900.3 416.6,895.3 417.8,890.3 421.6,885.3 427.9,881.2 436.9,877.8 445.3,876.0 457.8,874.5 470.2,874.1 487.6,874.5 520.0,876.4 520.0,900.3Z"/><path fill="#00ff0a" d="M520.0,715.7 502.6,714.9 485.2,712.9 470.2,710.0 455.3,705.5 442.9,700.3 430.7,693.0 425.0,688.0 422.8,685.5 420.0,680.5 520.0,680.5 520.0,715.7ZM520.0,824.0 450.3,821.3 393.1,819.9 375.7,818.5 363.2,816.3 355.8,814.1 348.3,810.5 343.3,806.8 339.7,802.9 336.7,797.9 334.4,790.4 334.1,782.9 334.8,777.9 337.7,770.4 340.8,766.0 345.8,761.4 350.8,758.4 357.9,755.4 365.7,753.4 375.7,751.8 388.1,751.0 405.5,751.3 425.4,753.6 442.9,757.0 490.1,768.4 505.1,770.8 520.0,772.2 520.0,824.0ZM520.0,900.3 420.0,900.3 419.1,895.3 420.4,890.3 424.7,885.3 432.9,880.7 440.4,878.3 450.3,876.4 462.8,875.3 475.2,875.1 492.6,875.7 520.0,877.3 520.0,900.3Z"/><path fill="#00ff1f" d="M520.0,714.8 502.6,714.0 485.2,712.0 470.2,708.9 457.8,705.2 445.3,700.2 433.1,693.0 425.4,685.8 422.3,680.5 520.0,680.5 520.0,714.8ZM520.0,823.0 452.8,820.4 395.6,819.0 378.1,817.6 365.0,815.4 358.2,813.4 351.3,810.4 345.8,806.6 342.0,802.9 338.8,797.9 336.3,790.4 335.9,782.9 336.7,777.9 339.8,770.4 343.3,765.9 348.3,761.7 353.3,758.8 360.7,755.9 368.2,754.0 378.1,752.6 388.1,751.9 405.5,752.3 425.4,754.5 442.9,757.9 490.1,769.3 505.1,771.7 520.0,773.1 520.0,823.0ZM520.0,900.3 422.3,900.3 421.5,895.3 423.1,890.3 425.0,887.8 427.9,885.3 435.4,881.4 442.9,879.1 452.8,877.3 465.2,876.3 495.1,876.8 520.0,878.2 520.0,900.3Z"/><path fill="#00ff33" d="M520.0,714.0 502.6,713.2 485.2,711.0 470.5,708.0 457.8,704.1 445.3,698.8 435.6,693.0 427.9,686.0 424.6,680.5 520.0,680.5 520.0,714.0ZM520.0,822.0 455.3,819.5 395.6,818.0 378.1,816.5 365.7,814.2 358.2,811.8 350.8,808.1 345.8,804.2 342.5,800.4 339.7,795.4 338.2,790.4 337.8,782.9 338.7,777.9 340.5,772.9 343.8,767.9 349.2,762.9 355.8,759.2 363.2,756.5 370.7,754.7 380.6,753.4 390.6,752.9 408.0,753.4 425.4,755.4 442.9,758.9 487.6,769.8 502.6,772.4 520.0,774.1 520.0,822.0ZM520.0,900.3 424.6,900.3 424.0,895.3 425.8,890.3 430.4,885.9 436.0,882.8 445.3,879.9 455.3,878.2 467.7,877.3 497.6,877.8 520.0,879.1 520.0,900.3Z"/><path fill="#00ff47" d="M520.0,713.1 502.6,712.3 487.6,710.5 472.7,707.5 460.3,703.8 447.8,698.7 438.0,693.0 432.0,688.0 428.2,683.0 427.0,680.5 520.0,680.5 520.0,713.1ZM520.0,821.0 457.8,818.6 398.1,817.1 380.6,815.7 368.2,813.5 360.7,811.3 353.4,807.9 348.3,804.1 344.8,800.4 341.8,795.4 340.2,790.4 339.7,782.9 340.6,777.9 342.6,772.9 346.1,767.9 350.8,763.8 356.5,760.4 363.2,757.8 373.2,755.4 383.1,754.2 393.1,753.8 410.5,754.5 427.9,756.8 442.9,759.8 487.6,770.8 505.1,773.7 520.0,775.1 520.0,821.0ZM520.0,900.3 427.0,900.3 426.5,895.3 427.2,892.8 428.7,890.3 432.9,886.5 440.3,882.8 449.6,880.3 460.3,878.8 472.7,878.2 505.1,879.1 520.0,880.0 520.0,900.3Z"/><path fill="#00ff5c" d="M520.0,712.2 502.6,711.4 487.6,709.6 472.7,706.5 461.1,703.0 449.1,698.0 440.5,693.0 432.9,686.3 429.5,680.5 520.0,680.5 520.0,712.2ZM520.0,819.9 457.8,817.6 400.5,816.3 383.1,814.9 371.1,812.9 363.2,810.7 356.7,807.9 350.8,804.0 347.1,800.4 343.9,795.4 342.1,790.4 341.5,785.4 341.9,780.4 343.4,775.4 346.3,770.4 350.8,765.8 355.8,762.4 363.2,759.1 370.7,757.1 380.6,755.5 390.6,754.8 408.0,755.2 425.4,757.3 442.9,760.8 487.6,771.8 502.6,774.3 520.0,776.1 520.0,819.9ZM520.0,900.3 429.5,900.3 429.0,897.8 429.9,892.8 432.9,889.0 438.5,885.3 445.0,882.8 452.8,881.0 462.8,879.8 487.6,879.3 520.0,880.9 520.0,900.3Z"/><path fill="#00ff70" d="M520.0,711.4 505.1,710.7 490.1,709.0 475.2,706.1 462.8,702.4 451.9,698.0 443.1,693.0 435.4,686.3 433.0,683.0 432.0,680.5 520.0,680.5 520.0,711.4ZM520.0,818.9 457.8,816.7 403.0,815.4 385.6,814.1 373.2,812.1 365.7,810.1 360.1,807.9 353.3,803.8 349.5,800.4 346.0,795.4 344.1,790.4 343.4,785.4 343.8,780.4 345.5,775.4 348.5,770.4 353.3,765.9 358.2,762.7 365.7,759.7 373.2,757.7 383.1,756.3 393.1,755.7 408.0,756.1 425.4,758.2 442.9,761.7 487.6,772.7 502.6,775.3 520.0,777.1 520.0,818.9ZM520.0,900.3 432.0,900.3 431.5,897.8 431.7,895.3 432.7,892.8 435.4,889.6 440.4,886.4 447.8,883.5 455.3,881.9 465.2,880.7 489.7,880.3 520.0,881.8 520.0,900.3Z"/><path fill="#00ff85" d="M520.0,710.5 505.1,709.8 490.1,708.1 476.9,705.5 465.2,702.1 454.8,698.0 445.3,692.7 440.4,688.9 437.1,685.5 434.5,680.5 520.0,680.5 520.0,710.5ZM520.0,817.9 460.3,815.8 405.5,814.5 388.1,813.3 375.7,811.4 368.2,809.5 360.7,806.5 355.8,803.6 351.9,800.4 348.1,795.4 346.1,790.4 345.3,785.4 345.8,780.4 347.5,775.4 350.8,770.4 355.8,766.0 361.0,762.9 367.4,760.4 375.7,758.4 385.6,757.1 395.6,756.7 410.5,757.3 427.9,759.6 443.9,762.9 487.6,773.8 502.6,776.3 520.0,778.1 520.0,817.9ZM520.0,900.3 434.5,900.3 434.1,897.8 435.4,893.3 437.8,890.3 442.9,887.1 450.3,884.4 457.8,882.7 467.7,881.6 492.6,881.4 520.0,882.7 520.0,900.3Z"/><path fill="#00ff99" d="M520.0,709.6 505.1,708.9 490.1,707.1 477.7,704.6 465.2,700.9 452.8,695.6 444.8,690.5 439.7,685.5 437.1,680.5 520.0,680.5 520.0,709.6ZM520.0,816.8 405.5,813.6 390.6,812.5 376.7,810.4 368.2,808.1 363.2,806.1 357.6,802.9 353.3,799.2 350.3,795.4 348.1,790.4 347.3,785.4 347.8,780.4 349.6,775.4 353.1,770.4 358.2,766.2 363.2,763.4 370.7,760.8 378.1,759.1 395.6,757.6 410.5,758.2 427.5,760.4 442.9,763.6 487.6,774.8 502.6,777.4 520.0,779.1 520.0,816.8ZM520.0,900.3 437.1,900.3 436.8,897.8 437.3,895.3 438.7,892.8 441.2,890.3 445.3,887.8 452.8,885.2 460.3,883.7 470.2,882.6 495.1,882.4 520.0,883.6 520.0,900.3Z"/><path fill="#00ffad" d="M520.0,708.7 505.1,708.0 492.6,706.5 480.2,704.2 467.3,700.5 455.5,695.5 447.5,690.5 442.3,685.5 439.8,680.5 520.0,680.5 520.0,708.7ZM520.0,815.7 408.0,812.7 390.6,811.4 378.1,809.5 371.9,807.9 365.2,805.4 360.5,802.9 354.5,797.9 352.6,795.4 350.2,790.4 349.3,785.4 349.8,780.4 351.7,775.4 355.5,770.4 360.7,766.4 365.7,763.9 373.2,761.3 380.6,759.8 398.1,758.6 413.0,759.4 427.9,761.4 445.3,765.2 487.6,775.9 505.1,778.8 520.0,780.2 520.0,815.7ZM520.0,900.3 439.8,900.3 439.6,897.8 440.2,895.3 441.9,892.8 444.8,890.3 449.7,887.8 455.3,886.0 462.8,884.6 472.7,883.6 495.1,883.4 520.0,884.5 520.0,900.3Z"/><path fill="#00ffc2" d="M520.0,707.8 505.1,707.0 492.6,705.6 480.2,703.1 470.2,700.3 458.5,695.5 450.2,690.5 444.9,685.5 442.5,680.5 520.0,680.5 520.0,707.8ZM520.0,814.5 410.5,811.8 393.1,810.7 380.6,808.8 373.2,806.9 365.7,804.0 360.7,801.1 356.9,797.9 354.8,795.4 352.2,790.4 351.3,785.4 351.8,780.4 353.3,776.6 355.6,772.9 360.7,768.3 368.2,764.3 378.1,761.4 390.6,759.8 403.0,759.6 418.0,760.9 432.9,763.3 487.6,777.0 502.6,779.6 520.0,781.4 520.0,814.5ZM520.0,900.3 442.5,900.3 442.5,897.8 443.3,895.3 445.2,892.8 447.8,890.9 452.8,888.5 457.8,886.9 465.2,885.5 475.2,884.5 497.6,884.4 520.0,885.5 520.0,900.3Z"/><path fill="#00ffd6" d="M520.0,706.8 505.1,706.1 492.6,704.5 482.7,702.6 470.2,699.0 461.6,695.5 453.0,690.5 447.7,685.5 445.4,680.5 520.0,680.5 520.0,706.8ZM520.0,813.3 413.0,811.0 395.6,809.9 383.1,808.1 375.7,806.3 368.2,803.6 363.2,800.8 359.5,797.9 357.2,795.4 354.4,790.4 353.4,785.4 353.9,780.4 356.1,775.4 360.7,770.3 368.2,765.8 378.1,762.6 390.6,760.8 403.0,760.6 415.5,761.5 430.4,763.8 490.1,778.6 505.1,781.1 520.0,782.6 520.0,813.3ZM520.0,900.3 445.4,900.3 445.5,897.8 446.5,895.3 447.8,893.8 450.3,891.8 455.3,889.4 460.4,887.8 467.7,886.5 487.6,885.3 520.0,886.5 520.0,900.3Z"/><path fill="#00ffeb" d="M520.0,705.8 507.6,705.3 492.6,703.5 480.2,700.8 470.9,698.0 464.8,695.5 455.9,690.5 450.6,685.5 449.1,683.0 448.4,680.5 520.0,680.5 520.0,705.8ZM520.0,812.0 415.5,810.1 398.1,809.0 385.6,807.4 377.1,805.4 370.7,803.1 365.5,800.4 362.1,797.9 359.6,795.4 356.6,790.4 355.8,787.4 355.5,782.9 357.0,777.9 360.7,772.6 367.2,767.9 375.7,764.5 385.6,762.5 398.1,761.6 410.5,762.0 425.4,763.9 444.2,767.9 487.6,779.3 502.6,782.0 520.0,783.8 520.0,812.0ZM520.0,900.3 448.4,900.3 448.6,897.8 450.0,895.3 452.7,892.8 457.8,890.3 470.2,887.5 490.1,886.4 520.0,887.4 520.0,900.3Z"/><path fill="#00ffff" d="M520.0,704.8 507.6,704.3 495.9,703.0 483.3,700.5 474.7,698.0 467.7,695.3 459.0,690.5 453.5,685.5 452.1,683.0 451.5,680.5 520.0,680.5 520.0,704.8ZM520.0,810.6 415.5,809.1 400.5,808.2 388.1,806.6 380.6,805.0 373.9,802.9 368.6,800.4 364.9,797.9 362.2,795.4 358.9,790.4 358.0,787.9 357.7,782.9 359.2,777.9 363.2,772.7 370.5,767.9 378.1,765.2 388.1,763.3 400.5,762.6 413.0,763.2 425.4,764.9 440.4,768.0 472.7,776.9 490.1,781.1 505.1,783.6 520.0,785.2 520.0,810.6ZM520.0,900.3 451.5,900.3 452.0,897.8 453.6,895.3 457.1,892.8 463.4,890.3 475.2,888.2 492.6,887.5 520.0,888.5 520.0,900.3Z"/><path fill="#00ebff" d="M520.0,703.8 507.6,703.3 495.1,701.7 485.2,699.7 475.2,696.7 466.4,693.0 459.0,688.0 456.7,685.5 455.2,683.0 454.8,680.5 520.0,680.5 520.0,703.8ZM520.0,809.1 420.5,808.2 403.0,807.4 390.6,805.9 378.0,802.9 372.0,800.4 367.8,797.9 364.8,795.4 361.2,790.4 360.3,787.9 359.9,782.9 361.6,777.9 365.7,772.9 373.2,768.3 380.6,765.8 390.6,764.1 400.5,763.6 410.5,764.0 422.9,765.5 442.9,769.7 487.6,781.9 502.6,784.7 520.0,786.7 520.0,809.1ZM520.0,900.3 454.8,900.3 455.5,897.8 457.7,895.3 461.9,892.8 465.2,891.7 477.7,889.3 495.1,888.6 520.0,889.5 520.0,900.3Z"/><path fill="#00d6ff" d="M520.0,702.7 507.6,702.1 495.1,700.6 483.4,698.0 475.7,695.5 470.0,693.0 462.3,688.0 459.9,685.5 458.6,683.0 458.4,680.5 520.0,680.5 520.0,702.7ZM520.0,807.4 422.9,807.2 405.5,806.5 393.1,805.1 380.6,802.3 375.6,800.4 370.7,797.8 367.6,795.4 363.6,790.4 362.6,787.9 362.2,782.9 364.0,777.9 368.5,772.9 373.2,770.0 380.6,767.2 390.6,765.3 400.5,764.7 413.0,765.2 422.9,766.5 441.4,770.4 472.7,779.5 490.1,783.9 505.1,786.7 520.0,788.4 520.0,807.4ZM520.0,900.3 458.4,900.3 459.4,897.8 462.1,895.3 467.7,892.8 480.2,890.5 495.1,889.8 520.0,890.6 520.0,900.3Z"/><path fill="#00c2ff" d="M520.0,701.6 500.1,700.2 488.5,698.0 480.0,695.5 473.8,693.0 465.7,688.0 463.4,685.5 462.2,683.0 462.2,680.5 520.0,680.5 520.0,701.6ZM517.5,805.4 425.4,806.1 408.0,805.6 395.6,804.3 388.0,802.9 380.6,800.8 374.2,797.9 370.7,795.6 366.1,790.4 365.1,787.9 364.6,782.9 366.6,777.9 370.7,773.6 376.0,770.4 383.1,767.9 390.6,766.5 400.5,765.8 410.5,766.1 420.5,767.2 440.4,771.3 475.2,781.7 492.6,786.1 507.6,788.9 520.0,790.4 520.0,805.4 517.5,805.4ZM520.0,900.3 462.2,900.3 463.6,897.8 465.2,896.6 467.2,895.3 472.7,893.4 482.7,891.7 497.6,891.0 520.0,891.8 520.0,900.3Z"/><path fill="#00adff" d="M520.0,700.4 507.6,699.8 497.6,698.5 487.6,696.3 480.2,693.8 473.1,690.5 469.5,688.0 467.2,685.5 466.1,683.0 466.4,680.5 520.0,680.5 520.0,700.4ZM515.0,802.9 430.4,805.0 413.0,804.7 398.1,803.4 384.0,800.4 377.7,797.9 373.6,795.4 368.8,790.4 367.6,787.9 367.2,782.9 369.3,777.9 371.5,775.4 375.7,772.5 383.1,769.4 390.6,767.8 398.1,767.1 408.0,767.1 418.0,767.9 430.4,770.1 442.0,772.9 477.7,784.1 495.1,788.8 520.0,793.2 520.0,802.5 515.0,802.9ZM520.0,900.3 466.4,900.3 468.4,897.8 470.2,896.8 473.3,895.3 477.7,894.2 486.5,892.8 500.1,892.3 520.0,893.0 520.0,900.3Z"/><path fill="#0099ff" d="M520.0,699.0 510.0,698.6 500.1,697.5 490.4,695.5 482.7,693.0 477.3,690.5 473.6,688.0 471.4,685.5 470.4,683.0 471.1,680.5 520.0,680.5 520.0,699.0ZM457.8,803.0 432.9,803.8 415.5,803.7 403.0,802.8 390.6,800.7 381.7,797.9 376.9,795.4 373.7,792.9 370.3,787.9 369.8,782.9 370.6,780.4 372.1,777.9 374.6,775.4 378.5,772.9 384.9,770.4 398.1,768.3 405.5,768.1 415.5,768.8 427.9,770.8 446.2,775.4 507.0,795.4 509.3,797.9 497.1,800.4 457.8,803.0ZM520.0,900.3 471.1,900.3 474.0,897.8 481.4,895.3 490.1,894.2 502.6,893.7 520.0,894.4 520.0,900.3Z"/><path fill="#0085ff" d="M520.0,697.6 502.6,696.3 488.1,693.0 482.2,690.5 478.2,688.0 475.9,685.5 475.3,683.0 476.6,680.5 520.0,680.5 520.0,697.6ZM467.7,800.4 445.3,802.1 425.4,802.7 410.5,802.2 395.6,800.4 385.6,797.7 380.6,795.4 376.9,792.9 374.6,790.4 373.1,787.9 372.5,785.4 372.6,782.9 373.4,780.4 375.2,777.9 378.1,775.4 385.6,771.9 391.5,770.4 398.1,769.6 405.5,769.4 415.5,770.0 432.9,773.1 456.7,780.4 481.6,790.4 486.3,792.9 488.3,795.4 484.2,797.9 467.7,800.4ZM520.0,900.3 476.6,900.3 481.1,897.8 487.6,896.3 495.1,895.4 505.1,895.2 520.0,895.8 520.0,900.3Z"/><path fill="#0070ff" d="M520.0,695.9 507.6,695.4 494.8,693.0 487.8,690.5 483.5,688.0 481.3,685.5 481.0,683.0 483.4,680.5 520.0,680.5 520.0,695.9ZM445.3,800.6 430.4,801.2 415.5,801.2 403.0,800.2 393.1,798.3 385.6,795.8 380.5,792.9 377.8,790.4 376.2,787.9 375.4,785.4 375.6,782.9 376.6,780.4 378.6,777.9 382.0,775.4 387.9,772.9 400.5,770.8 413.0,771.0 426.1,772.9 444.8,777.9 463.9,785.4 473.1,790.4 475.5,792.9 474.5,795.4 467.2,797.9 445.3,800.6ZM520.0,900.3 483.4,900.3 491.7,897.8 505.1,896.9 520.0,897.5 520.0,900.3Z"/><path fill="#005cff" d="M520.0,693.9 505.1,693.0 495.0,690.5 490.0,688.0 487.8,685.5 488.3,683.0 493.4,680.5 520.0,680.5 520.0,693.9ZM450.3,798.2 435.4,799.6 422.9,799.9 410.5,799.5 398.1,797.9 389.5,795.4 383.1,791.9 379.5,787.9 378.7,785.4 378.8,782.9 380.0,780.4 383.1,777.4 388.1,774.8 395.6,772.9 403.0,772.2 410.5,772.2 418.0,772.9 427.9,774.7 439.7,777.9 452.9,782.9 462.3,787.9 465.2,790.4 465.9,792.9 462.7,795.4 450.3,798.2ZM520.0,900.3 493.4,900.3 507.6,899.0 520.0,899.5 520.0,900.3Z"/><path fill="#0047ff" d="M520.0,691.2 506.9,690.5 499.2,688.0 496.9,685.5 500.0,683.0 502.6,682.5 510.0,682.0 520.0,682.4 520.0,691.2ZM435.4,797.9 422.9,798.4 413.0,798.2 403.0,797.1 395.3,795.4 389.0,792.9 385.2,790.4 383.1,787.9 382.2,785.4 382.4,782.9 383.8,780.4 386.8,777.9 393.1,775.3 403.0,773.8 415.5,774.2 427.9,776.3 441.4,780.4 452.2,785.4 455.7,787.9 457.5,790.4 456.6,792.9 451.3,795.4 435.4,797.9Z"/><path fill="#0033ff" d="M437.9,795.5 427.9,796.5 418.0,796.7 408.0,796.0 400.5,794.7 394.5,792.9 389.8,790.4 387.3,787.9 386.3,785.4 386.6,782.9 388.4,780.4 392.4,777.9 400.5,775.8 413.0,775.5 427.3,777.9 435.5,780.4 441.5,782.9 446.0,785.4 448.8,787.9 449.6,790.4 447.1,792.9 437.9,795.5Z"/><path fill="#001fff" d="M435.4,793.0 427.9,794.2 420.5,794.7 413.0,794.5 405.5,793.6 402.2,792.9 395.5,790.4 392.3,787.9 391.1,785.4 391.6,782.9 394.2,780.4 400.5,778.1 408.0,777.4 418.0,778.1 428.3,780.4 434.9,782.9 439.2,785.4 441.4,787.9 441.0,790.4 435.4,793.0Z"/><path fill="#000aff" d="M427.9,790.9 418.0,792.1 408.0,791.3 404.1,790.4 400.5,788.7 399.1,787.9 397.5,785.4 398.6,782.9 404.5,780.4 410.5,780.0 416.8,780.4 426.4,782.9 431.0,785.4 432.5,787.9 429.8,790.4 427.9,790.9Z"/></g><g mask="url(#lmask)"><g clip-path="url(#mclip)" fill="none" stroke="#000" stroke-width="1" shape-rendering="crispEdges"><path d="M520.0,900.3 350.5,900.3 345.8,894.5 343.3,892.2 340.8,890.9 338.3,890.4 335.8,891.1 333.4,893.0 330.9,897.5 330.2,900.3 301.0,900.3 301.0,680.5 330.2,680.5 329.7,685.5 330.8,693.0 332.9,698.0 336.6,703.0 340.8,706.5 345.8,709.1 350.8,710.7 358.2,711.7 363.2,711.3 365.9,710.5 368.0,708.0 367.9,705.5 365.3,700.5 350.5,680.5 520.0,680.5 520.0,900.3Z"/><path d="M520.0,900.3 357.3,900.3 347.8,882.8 345.8,880.6 343.3,878.9 338.3,877.9 333.4,879.5 330.9,881.3 328.4,884.0 325.2,890.3 323.4,900.3 301.0,900.3 301.0,680.5 323.4,680.5 323.7,688.0 325.9,696.8 329.2,703.0 333.4,707.6 338.3,711.1 345.8,714.2 353.3,716.0 363.2,716.8 368.2,716.6 374.2,715.5 377.8,713.0 378.3,710.5 376.0,705.5 364.0,690.5 357.3,680.5 520.0,680.5 520.0,900.3Z"/><path d="M520.0,900.3 362.3,900.3 358.9,892.8 354.1,877.8 351.4,872.8 348.3,870.2 345.8,869.3 340.8,868.7 335.8,869.5 330.9,871.7 328.4,873.5 324.5,877.8 321.9,882.8 320.2,887.8 319.2,892.8 318.7,900.3 301.0,900.3 301.0,680.5 318.7,680.5 319.4,690.5 322.3,700.5 327.0,708.0 333.4,713.2 340.8,716.6 348.3,718.6 358.2,720.0 368.2,720.4 378.1,719.5 383.8,718.0 386.5,715.5 386.7,713.0 384.0,708.0 368.8,690.5 362.3,680.5 520.0,680.5 520.0,900.3Z"/><path d="M520.0,900.3 366.4,900.3 364.1,895.3 361.9,887.8 360.2,872.8 359.0,867.8 357.2,865.3 353.3,862.9 345.8,861.7 338.3,862.3 333.4,863.6 328.4,865.9 323.0,870.3 319.6,875.3 316.8,882.8 315.3,890.3 314.8,900.3 301.0,900.3 301.0,680.5 314.8,680.5 315.8,693.0 318.7,703.0 323.4,710.5 329.4,715.5 335.8,718.5 345.8,721.2 358.2,722.7 370.7,723.2 380.6,722.7 390.6,720.8 394.5,718.0 394.6,715.5 391.7,710.5 372.9,690.5 366.4,680.5 520.0,680.5 520.0,900.3Z"/><path d="M520.0,900.3 370.0,900.3 367.1,892.8 365.8,885.3 365.9,877.8 367.4,867.8 367.4,862.8 366.1,860.3 361.8,857.8 355.8,856.6 348.3,856.2 338.3,857.0 330.9,858.8 325.9,860.9 320.9,864.6 316.6,870.3 313.7,877.8 311.9,887.8 311.3,900.3 301.0,900.3 301.0,680.5 311.3,680.5 312.6,695.5 315.3,705.5 319.8,713.0 325.8,718.0 333.4,721.3 343.3,723.6 355.8,725.0 370.7,725.5 385.6,725.0 395.6,723.6 398.3,723.0 402.1,720.5 402.5,718.0 399.3,713.0 378.7,693.0 374.6,688.0 370.0,680.5 520.0,680.5 520.0,740.8 512.8,742.9 516.6,745.4 520.0,746.0 520.0,900.3Z"/><path d="M520.0,900.3 373.3,900.3 371.3,895.3 370.1,890.3 369.6,885.3 369.9,880.3 371.9,872.8 377.7,860.3 378.1,857.8 376.6,855.3 370.7,853.1 363.2,852.2 353.3,851.8 340.8,852.4 330.9,853.9 323.4,856.4 317.5,860.3 313.4,865.9 310.3,875.3 308.6,887.8 308.2,900.3 301.0,900.3 301.0,680.5 308.2,680.5 309.2,695.5 311.1,705.5 314.3,713.0 318.4,718.0 320.9,719.8 328.4,723.3 338.3,725.5 353.3,727.0 373.2,727.6 390.6,727.1 404.7,725.5 410.0,723.0 410.5,720.5 409.3,718.0 407.1,715.5 390.6,701.2 382.1,693.0 376.2,685.5 373.3,680.5 520.0,680.5 520.0,737.3 506.7,737.9 496.9,740.4 496.9,742.9 501.1,745.4 508.9,747.9 520.0,749.7 520.0,900.3Z"/><path d="M520.0,900.3 376.4,900.3 374.4,895.3 373.1,887.8 373.4,882.8 374.5,877.8 376.7,872.8 380.1,867.8 392.2,855.3 393.1,852.8 389.8,850.3 385.6,849.6 375.7,848.6 358.2,848.1 340.8,848.6 328.4,849.9 320.9,851.8 314.5,855.3 310.5,860.3 308.5,865.3 307.3,870.3 305.8,882.8 305.4,900.3 301.0,900.3 301.0,680.5 305.4,680.5 306.2,698.0 308.3,710.5 311.6,718.0 315.9,722.3 323.4,725.7 335.8,727.9 353.3,729.1 375.7,729.4 395.6,729.1 410.9,728.0 418.8,725.5 419.4,723.0 417.9,720.5 415.4,718.0 395.6,702.5 387.7,695.5 381.1,688.0 376.4,680.5 520.0,680.5 520.0,735.0 502.7,735.5 492.6,736.4 485.0,737.9 483.7,740.4 486.4,742.9 491.3,745.4 498.2,747.9 508.5,750.4 520.0,751.9 520.0,900.3Z"/><path d="M520.0,900.3 379.3,900.3 376.8,892.8 376.4,885.3 378.1,878.5 381.2,872.8 385.6,867.8 393.1,861.9 403.0,856.5 415.9,850.3 415.3,847.8 405.5,846.1 395.6,845.3 370.7,845.0 325.9,845.9 315.9,847.3 313.4,848.1 309.3,850.3 306.0,855.1 304.5,860.3 303.1,875.3 302.7,900.3 301.0,900.3 301.0,680.5 302.7,680.5 303.2,703.0 304.6,715.5 306.0,720.5 307.3,723.0 311.0,726.5 318.4,729.0 328.4,730.1 345.8,730.9 375.7,731.1 417.9,730.5 425.4,729.6 430.8,728.0 430.5,725.5 427.9,723.0 400.5,703.7 390.8,695.5 384.0,688.0 379.3,680.5 520.0,680.5 520.0,733.3 492.6,733.6 477.7,734.5 471.4,735.5 470.0,737.9 473.0,740.4 477.5,742.9 490.2,747.9 505.1,751.7 520.0,753.7 520.0,846.0 494.3,847.8 491.2,850.3 498.4,852.8 512.2,855.3 520.0,856.1 520.0,900.3Z"/><path d="M520.0,731.8 467.7,731.1 452.8,729.5 445.3,727.3 437.9,724.1 427.9,718.9 415.5,711.5 403.0,703.1 396.6,698.0 390.6,692.3 385.0,685.5 382.1,680.5 520.0,680.5 520.0,731.8ZM520.0,843.4 457.8,844.4 408.0,842.3 340.8,842.3 318.4,841.3 312.5,840.4 308.5,838.9 306.0,836.8 304.0,832.9 303.0,827.9 302.3,817.9 301.8,790.4 302.1,760.4 302.9,747.9 304.6,740.4 306.1,737.9 309.9,735.5 315.9,734.1 323.4,733.5 385.6,732.7 437.9,733.7 445.3,734.6 452.8,736.4 476.2,745.4 491.7,750.4 505.1,753.4 520.0,755.3 520.0,843.4ZM520.0,900.3 382.1,900.3 379.7,892.8 379.6,885.3 382.0,877.8 385.5,872.8 387.9,870.3 395.6,864.6 405.5,859.8 413.0,857.2 422.9,854.6 437.9,852.1 452.8,851.2 465.2,851.8 509.6,857.8 520.0,858.7 520.0,900.3Z"/><path d="M520.0,730.4 490.1,729.9 470.2,728.7 455.3,726.5 440.4,721.9 430.4,717.4 420.5,712.1 403.0,700.7 396.6,695.5 391.6,690.5 387.7,685.5 384.8,680.5 520.0,680.5 520.0,730.4ZM520.0,841.4 475.2,841.2 410.5,839.7 350.8,839.9 330.9,838.7 323.4,837.4 316.9,835.4 312.8,832.9 308.9,827.9 306.5,820.4 305.0,810.4 304.2,790.4 304.6,770.4 306.0,756.6 308.3,747.9 311.5,742.9 315.9,739.6 323.4,737.1 330.9,735.9 345.8,734.8 365.7,734.3 413.0,734.7 432.9,736.2 447.8,738.7 457.8,741.4 485.4,750.4 495.0,752.9 508.2,755.4 520.0,756.7 520.0,841.4ZM520.0,900.3 384.8,900.3 382.4,892.8 382.2,887.8 384.2,880.3 387.4,875.3 390.6,871.9 398.1,866.5 410.5,861.1 425.4,857.3 437.9,855.6 455.3,854.9 475.2,856.0 520.0,860.7 520.0,900.3Z"/><path d="M520.0,729.1 492.6,728.5 470.2,726.7 455.3,724.1 440.4,719.5 422.9,711.4 405.6,700.5 399.4,695.5 394.3,690.5 390.3,685.5 387.4,680.5 520.0,680.5 520.0,729.1ZM520.0,839.7 420.5,837.6 353.3,837.7 333.4,835.9 322.2,832.9 317.7,830.4 312.9,825.4 309.6,817.9 308.0,810.4 306.6,795.4 306.7,777.9 308.1,762.9 310.7,752.9 313.4,747.9 318.4,743.2 323.4,740.7 330.9,738.6 340.8,737.1 355.8,736.1 398.1,735.8 420.5,736.9 440.4,739.4 452.8,742.3 490.1,753.2 505.1,756.3 520.0,758.0 520.0,839.7ZM520.0,900.3 387.4,900.3 385.1,892.8 385.0,887.8 387.4,880.3 390.6,875.8 393.6,872.8 403.0,866.8 415.5,862.1 430.4,858.9 445.3,857.5 462.8,857.4 482.7,858.8 520.0,862.3 520.0,900.3Z"/><path d="M520.0,727.9 495.1,727.3 475.2,725.7 457.8,722.7 442.9,718.4 425.4,710.7 418.0,706.6 408.5,700.5 402.1,695.5 396.8,690.5 392.8,685.5 389.9,680.5 520.0,680.5 520.0,727.9ZM520.0,838.2 427.9,835.9 360.7,835.9 340.8,834.4 328.4,831.6 321.0,827.9 316.0,822.9 313.2,817.9 310.8,810.4 309.1,797.9 308.7,782.9 309.9,767.9 312.3,757.9 314.5,752.9 318.4,747.9 323.4,744.3 330.9,741.3 340.8,739.2 353.3,737.8 385.6,736.9 410.5,737.7 432.9,740.0 452.8,744.1 493.6,755.4 507.5,757.9 520.0,759.2 520.0,838.2ZM520.0,900.3 389.9,900.3 387.7,892.8 387.8,887.8 389.3,882.8 392.4,877.8 395.6,874.5 400.5,870.8 405.5,868.1 413.0,865.1 427.9,861.4 445.3,859.4 462.8,859.3 520.0,863.7 520.0,900.3Z"/><path d="M520.0,726.9 495.1,726.1 475.2,724.3 457.8,721.1 442.9,716.6 425.4,709.0 410.5,699.9 404.7,695.5 399.4,690.5 395.2,685.5 392.3,680.5 520.0,680.5 520.0,726.9ZM520.0,836.8 430.4,834.4 363.2,834.2 343.3,832.4 330.9,829.4 323.4,825.4 318.4,820.4 315.5,815.4 313.0,807.9 311.1,795.4 310.9,782.9 312.0,770.4 314.4,760.4 316.7,755.4 320.9,749.9 325.9,746.2 333.4,743.0 340.8,741.1 353.3,739.4 383.1,738.2 410.5,739.0 432.9,741.5 447.8,744.5 492.6,756.5 505.1,758.7 520.0,760.4 520.0,836.8ZM520.0,900.3 392.3,900.3 390.6,895.3 390.2,890.3 391.1,885.3 392.2,882.8 395.6,878.0 398.1,875.5 405.5,870.5 415.5,866.4 427.9,863.3 442.9,861.4 460.3,860.9 480.2,861.8 520.0,865.1 520.0,900.3Z"/><path d="M520.0,725.8 495.1,724.9 475.2,722.9 457.8,719.6 442.9,715.0 425.4,707.3 410.5,698.0 404.4,693.0 400.5,689.1 397.6,685.5 394.7,680.5 520.0,680.5 520.0,725.8ZM520.0,835.5 430.4,832.9 365.7,832.5 348.3,831.1 340.8,829.7 334.5,827.9 328.4,825.1 322.4,820.4 318.7,815.4 315.6,807.9 313.6,797.9 312.9,785.4 313.8,772.9 316.3,762.9 318.5,757.9 322.0,752.9 328.1,747.9 333.4,745.4 340.8,743.1 350.8,741.2 365.7,739.9 380.6,739.4 405.5,740.0 430.4,742.6 450.3,746.6 493.8,757.9 507.6,760.2 520.0,761.4 520.0,835.5ZM520.0,900.3 394.7,900.3 393.1,895.3 392.7,890.3 393.9,885.3 395.6,882.0 399.0,877.8 403.0,874.5 408.0,871.6 415.5,868.4 430.4,864.6 445.3,862.8 462.8,862.4 480.2,863.2 520.0,866.3 520.0,900.3Z"/><path d="M520.0,724.8 497.6,724.0 477.7,722.0 460.3,718.8 445.3,714.4 427.9,706.9 413.1,698.0 403.0,689.2 400.0,685.5 397.1,680.5 520.0,680.5 520.0,724.8ZM520.0,834.4 437.9,831.7 368.2,831.0 350.8,829.5 338.3,826.7 330.9,823.5 325.9,819.8 322.0,815.4 318.2,807.9 315.8,797.9 314.9,787.9 315.6,775.4 317.9,765.4 321.4,757.9 325.6,752.9 330.9,749.1 335.8,746.7 343.3,744.3 353.3,742.4 365.7,741.2 380.6,740.6 408.0,741.3 430.4,743.9 447.8,747.4 490.1,758.3 505.1,761.0 520.0,762.5 520.0,834.4ZM520.0,900.3 397.1,900.3 395.5,895.3 395.3,890.3 396.6,885.3 397.9,882.8 400.5,879.5 405.5,875.3 415.5,870.3 430.4,866.2 445.3,864.3 462.8,863.8 477.7,864.4 520.0,867.5 520.0,900.3Z"/><path d="M520.0,723.8 497.6,722.9 477.7,720.9 460.3,717.5 445.3,713.0 430.4,706.7 415.7,698.0 405.5,689.3 402.3,685.5 399.4,680.5 520.0,680.5 520.0,723.8ZM520.0,833.2 437.9,830.4 370.7,829.7 353.3,828.1 340.8,825.3 333.4,822.0 327.6,817.9 323.4,812.9 319.8,805.4 317.9,797.9 316.9,787.9 317.4,777.9 319.4,767.9 322.7,760.4 326.5,755.4 330.9,751.7 337.9,747.9 345.8,745.4 355.8,743.5 368.2,742.3 380.6,741.7 405.5,742.3 427.9,744.7 447.8,748.6 492.6,759.9 507.6,762.4 520.0,763.5 520.0,833.2ZM520.0,900.3 399.4,900.3 397.9,895.3 397.8,890.3 399.3,885.3 400.8,882.8 403.0,880.1 408.0,876.1 418.0,871.2 432.9,867.3 447.8,865.5 465.2,865.1 520.0,868.6 520.0,900.3Z"/><path d="M520.0,722.8 497.6,721.9 477.7,719.7 460.3,716.3 445.3,711.6 430.4,705.1 418.0,697.8 408.0,689.5 404.6,685.5 401.7,680.5 520.0,680.5 520.0,722.8ZM520.0,832.1 440.4,829.3 373.2,828.4 355.8,826.8 343.3,824.0 335.8,820.8 330.9,817.5 325.9,812.2 322.2,805.4 320.0,797.9 318.9,787.9 319.4,777.9 320.9,770.4 323.9,762.9 327.3,757.9 330.9,754.4 337.1,750.4 343.3,747.9 353.3,745.4 365.7,743.7 378.1,742.9 403.0,743.3 427.9,745.9 445.3,749.2 490.1,760.5 505.1,763.1 520.0,764.5 520.0,832.1ZM520.0,900.3 401.7,900.3 400.2,895.3 400.0,892.8 400.9,887.8 402.0,885.3 405.9,880.3 413.0,875.3 422.9,871.2 435.4,868.3 447.8,866.9 465.2,866.4 482.7,867.1 520.0,869.6 520.0,900.3Z"/><path d="M520.0,721.9 500.1,721.1 480.2,719.0 465.2,716.3 447.8,711.2 432.9,704.9 420.5,697.8 410.5,689.6 406.9,685.5 404.0,680.5 520.0,680.5 520.0,721.9ZM520.0,831.0 440.4,828.2 375.7,827.1 358.2,825.5 345.8,822.8 338.3,819.7 333.4,816.6 328.4,811.6 324.6,805.4 322.1,797.9 320.9,787.9 321.4,777.9 323.1,770.4 326.4,762.9 330.2,757.9 335.8,753.4 340.8,750.7 348.3,748.0 358.2,745.9 368.2,744.7 380.6,744.0 405.5,744.5 427.9,747.0 447.8,751.0 490.1,761.5 505.1,764.1 520.0,765.5 520.0,831.0ZM520.0,900.3 404.0,900.3 402.6,895.3 402.4,892.8 403.4,887.8 404.7,885.3 409.1,880.3 417.0,875.3 425.4,872.1 437.9,869.3 450.3,868.0 465.2,867.6 485.2,868.3 520.0,870.7 520.0,900.3Z"/><path d="M520.0,721.0 497.6,720.0 480.2,718.0 462.8,714.5 447.8,710.0 432.9,703.5 420.5,696.0 411.2,688.0 406.3,680.5 520.0,680.5 520.0,721.0ZM520.0,830.0 445.3,827.2 378.1,826.0 360.7,824.4 348.3,821.7 340.8,818.7 335.4,815.4 330.2,810.4 327.0,805.4 324.2,797.9 323.0,790.4 323.0,780.4 324.4,772.9 327.4,765.4 330.8,760.4 335.8,755.7 340.8,752.7 348.3,749.7 358.2,747.2 368.2,745.9 380.6,745.1 403.0,745.4 425.4,747.7 445.3,751.5 492.1,762.9 507.6,765.4 520.0,766.5 520.0,830.0ZM520.0,900.3 406.3,900.3 404.9,895.3 404.8,892.8 406.0,887.8 407.4,885.3 412.2,880.3 420.5,875.6 428.4,872.8 440.4,870.3 452.8,869.0 467.7,868.7 487.6,869.6 520.0,871.7 520.0,900.3Z"/><path d="M520.0,720.1 500.1,719.2 480.2,717.0 465.2,714.0 450.3,709.6 434.6,703.0 422.1,695.5 413.5,688.0 408.6,680.5 520.0,680.5 520.0,720.1ZM520.0,828.9 447.8,826.2 380.6,824.9 363.2,823.3 350.8,820.6 343.3,817.8 335.8,813.1 331.0,807.9 328.4,803.4 325.7,795.4 324.7,787.9 324.9,780.4 326.4,772.9 329.7,765.4 333.4,760.5 338.3,756.2 343.3,753.3 350.8,750.4 360.7,748.1 370.7,746.8 383.1,746.0 405.5,746.5 427.9,749.1 445.3,752.5 490.1,763.5 505.1,766.0 520.0,767.5 520.0,828.9ZM520.0,900.3 408.6,900.3 407.2,895.3 407.2,892.8 408.6,887.8 410.2,885.3 415.5,880.3 419.7,877.8 425.4,875.3 437.9,872.1 452.8,870.3 467.7,869.8 520.0,872.7 520.0,900.3Z"/><path d="M520.0,719.2 500.1,718.3 482.7,716.3 465.2,712.9 450.3,708.4 437.4,703.0 424.5,695.5 415.8,688.0 410.8,680.5 520.0,680.5 520.0,719.2ZM520.0,827.9 447.8,825.2 383.1,823.8 365.7,822.2 353.3,819.7 345.8,817.0 338.8,812.9 333.6,807.9 330.9,803.7 328.4,797.9 326.8,790.4 326.6,782.9 327.7,775.4 330.5,767.9 333.8,762.9 338.3,758.5 343.3,755.2 350.8,752.0 360.7,749.4 370.7,747.9 383.1,747.1 403.0,747.3 425.4,749.7 445.3,753.6 490.1,764.5 505.1,767.0 520.0,768.4 520.0,827.9ZM520.0,900.3 410.8,900.3 409.6,895.3 409.6,892.8 411.2,887.8 412.9,885.3 418.8,880.3 427.9,876.1 440.4,873.0 455.3,871.3 470.2,871.0 520.0,873.6 520.0,900.3Z"/><path d="M520.0,718.3 500.1,717.4 482.7,715.4 467.7,712.5 452.8,708.1 437.9,701.8 427.0,695.5 418.1,688.0 415.5,684.7 413.1,680.5 520.0,680.5 520.0,718.3ZM520.0,826.9 450.3,824.2 385.6,822.8 368.2,821.3 355.8,818.8 348.3,816.2 342.1,812.9 336.3,807.9 332.7,802.9 330.4,797.9 328.7,790.4 328.5,782.9 329.7,775.4 332.7,767.9 335.8,763.5 340.8,758.8 346.4,755.4 353.3,752.7 361.9,750.4 370.7,749.1 383.1,748.1 403.0,748.3 425.4,750.7 445.3,754.6 490.1,765.5 505.1,767.9 520.0,769.4 520.0,826.9ZM520.0,900.3 413.1,900.3 411.9,895.3 412.0,892.8 413.9,887.8 415.8,885.3 422.3,880.3 430.4,876.8 442.9,873.8 455.3,872.4 470.2,872.0 520.0,874.5 520.0,900.3Z"/><path d="M520.0,717.4 500.1,716.5 482.7,714.4 467.7,711.4 452.8,706.9 440.4,701.7 429.4,695.5 420.4,688.0 416.6,683.0 415.4,680.5 520.0,680.5 520.0,717.4ZM520.0,825.9 450.3,823.2 388.1,821.8 370.7,820.3 358.2,817.9 350.6,815.4 343.3,811.5 339.0,807.9 335.0,802.9 332.5,797.9 330.6,790.4 330.3,782.9 331.6,775.4 334.9,767.9 338.3,763.4 343.3,759.2 348.3,756.2 355.8,753.3 363.2,751.4 373.2,749.9 385.6,749.0 405.5,749.4 425.4,751.7 442.9,755.0 490.1,766.4 505.1,768.9 520.0,770.3 520.0,825.9ZM520.0,900.3 415.4,900.3 414.3,895.3 415.2,890.3 418.7,885.3 425.4,880.6 432.9,877.5 442.9,875.1 455.3,873.6 467.7,873.1 485.2,873.4 520.0,875.5 520.0,900.3Z"/><path d="M520.0,716.6 502.6,715.8 485.2,713.8 470.2,711.0 455.3,706.7 442.9,701.6 431.9,695.5 422.7,688.0 418.9,683.0 417.7,680.5 520.0,680.5 520.0,716.6ZM520.0,824.9 450.3,822.2 390.6,820.8 373.2,819.4 360.7,817.1 353.3,814.8 345.8,811.0 340.8,807.0 337.3,802.9 334.6,797.9 332.5,790.4 332.2,782.9 332.9,777.9 334.5,772.9 338.3,766.3 343.3,761.2 348.4,757.9 355.8,754.7 363.2,752.7 373.2,751.0 385.6,750.0 405.5,750.4 425.4,752.6 442.9,756.0 490.1,767.4 505.1,769.8 520.0,771.3 520.0,824.9ZM520.0,900.3 417.7,900.3 416.6,895.3 417.8,890.3 421.6,885.3 427.9,881.2 436.9,877.8 445.3,876.0 457.8,874.5 470.2,874.1 487.6,874.5 520.0,876.4 520.0,900.3Z"/><path d="M520.0,715.7 502.6,714.9 485.2,712.9 470.2,710.0 455.3,705.5 442.9,700.3 430.7,693.0 425.0,688.0 422.8,685.5 420.0,680.5 520.0,680.5 520.0,715.7ZM520.0,824.0 450.3,821.3 393.1,819.9 375.7,818.5 363.2,816.3 355.8,814.1 348.3,810.5 343.3,806.8 339.7,802.9 336.7,797.9 334.4,790.4 334.1,782.9 334.8,777.9 337.7,770.4 340.8,766.0 345.8,761.4 350.8,758.4 357.9,755.4 365.7,753.4 375.7,751.8 388.1,751.0 405.5,751.3 425.4,753.6 442.9,757.0 490.1,768.4 505.1,770.8 520.0,772.2 520.0,824.0ZM520.0,900.3 420.0,900.3 419.1,895.3 420.4,890.3 424.7,885.3 432.9,880.7 440.4,878.3 450.3,876.4 462.8,875.3 475.2,875.1 492.6,875.7 520.0,877.3 520.0,900.3Z"/><path d="M520.0,714.8 502.6,714.0 485.2,712.0 470.2,708.9 457.8,705.2 445.3,700.2 433.1,693.0 425.4,685.8 422.3,680.5 520.0,680.5 520.0,714.8ZM520.0,823.0 452.8,820.4 395.6,819.0 378.1,817.6 365.0,815.4 358.2,813.4 351.3,810.4 345.8,806.6 342.0,802.9 338.8,797.9 336.3,790.4 335.9,782.9 336.7,777.9 339.8,770.4 343.3,765.9 348.3,761.7 353.3,758.8 360.7,755.9 368.2,754.0 378.1,752.6 388.1,751.9 405.5,752.3 425.4,754.5 442.9,757.9 490.1,769.3 505.1,771.7 520.0,773.1 520.0,823.0ZM520.0,900.3 422.3,900.3 421.5,895.3 423.1,890.3 425.0,887.8 427.9,885.3 435.4,881.4 442.9,879.1 452.8,877.3 465.2,876.3 495.1,876.8 520.0,878.2 520.0,900.3Z"/><path d="M520.0,714.0 502.6,713.2 485.2,711.0 470.5,708.0 457.8,704.1 445.3,698.8 435.6,693.0 427.9,686.0 424.6,680.5 520.0,680.5 520.0,714.0ZM520.0,822.0 455.3,819.5 395.6,818.0 378.1,816.5 365.7,814.2 358.2,811.8 350.8,808.1 345.8,804.2 342.5,800.4 339.7,795.4 338.2,790.4 337.8,782.9 338.7,777.9 340.5,772.9 343.8,767.9 349.2,762.9 355.8,759.2 363.2,756.5 370.7,754.7 380.6,753.4 390.6,752.9 408.0,753.4 425.4,755.4 442.9,758.9 487.6,769.8 502.6,772.4 520.0,774.1 520.0,822.0ZM520.0,900.3 424.6,900.3 424.0,895.3 425.8,890.3 430.4,885.9 436.0,882.8 445.3,879.9 455.3,878.2 467.7,877.3 497.6,877.8 520.0,879.1 520.0,900.3Z"/><path d="M520.0,713.1 502.6,712.3 487.6,710.5 472.7,707.5 460.3,703.8 447.8,698.7 438.0,693.0 432.0,688.0 428.2,683.0 427.0,680.5 520.0,680.5 520.0,713.1ZM520.0,821.0 457.8,818.6 398.1,817.1 380.6,815.7 368.2,813.5 360.7,811.3 353.4,807.9 348.3,804.1 344.8,800.4 341.8,795.4 340.2,790.4 339.7,782.9 340.6,777.9 342.6,772.9 346.1,767.9 350.8,763.8 356.5,760.4 363.2,757.8 373.2,755.4 383.1,754.2 393.1,753.8 410.5,754.5 427.9,756.8 442.9,759.8 487.6,770.8 505.1,773.7 520.0,775.1 520.0,821.0ZM520.0,900.3 427.0,900.3 426.5,895.3 427.2,892.8 428.7,890.3 432.9,886.5 440.3,882.8 449.6,880.3 460.3,878.8 472.7,878.2 505.1,879.1 520.0,880.0 520.0,900.3Z"/><path d="M520.0,712.2 502.6,711.4 487.6,709.6 472.7,706.5 461.1,703.0 449.1,698.0 440.5,693.0 432.9,686.3 429.5,680.5 520.0,680.5 520.0,712.2ZM520.0,819.9 457.8,817.6 400.5,816.3 383.1,814.9 371.1,812.9 363.2,810.7 356.7,807.9 350.8,804.0 347.1,800.4 343.9,795.4 342.1,790.4 341.5,785.4 341.9,780.4 343.4,775.4 346.3,770.4 350.8,765.8 355.8,762.4 363.2,759.1 370.7,757.1 380.6,755.5 390.6,754.8 408.0,755.2 425.4,757.3 442.9,760.8 487.6,771.8 502.6,774.3 520.0,776.1 520.0,819.9ZM520.0,900.3 429.5,900.3 429.0,897.8 429.9,892.8 432.9,889.0 438.5,885.3 445.0,882.8 452.8,881.0 462.8,879.8 487.6,879.3 520.0,880.9 520.0,900.3Z"/><path d="M520.0,711.4 505.1,710.7 490.1,709.0 475.2,706.1 462.8,702.4 451.9,698.0 443.1,693.0 435.4,686.3 433.0,683.0 432.0,680.5 520.0,680.5 520.0,711.4ZM520.0,818.9 457.8,816.7 403.0,815.4 385.6,814.1 373.2,812.1 365.7,810.1 360.1,807.9 353.3,803.8 349.5,800.4 346.0,795.4 344.1,790.4 343.4,785.4 343.8,780.4 345.5,775.4 348.5,770.4 353.3,765.9 358.2,762.7 365.7,759.7 373.2,757.7 383.1,756.3 393.1,755.7 408.0,756.1 425.4,758.2 442.9,761.7 487.6,772.7 502.6,775.3 520.0,777.1 520.0,818.9ZM520.0,900.3 432.0,900.3 431.5,897.8 431.7,895.3 432.7,892.8 435.4,889.6 440.4,886.4 447.8,883.5 455.3,881.9 465.2,880.7 489.7,880.3 520.0,881.8 520.0,900.3Z"/><path d="M520.0,710.5 505.1,709.8 490.1,708.1 476.9,705.5 465.2,702.1 454.8,698.0 445.3,692.7 440.4,688.9 437.1,685.5 434.5,680.5 520.0,680.5 520.0,710.5ZM520.0,817.9 460.3,815.8 405.5,814.5 388.1,813.3 375.7,811.4 368.2,809.5 360.7,806.5 355.8,803.6 351.9,800.4 348.1,795.4 346.1,790.4 345.3,785.4 345.8,780.4 347.5,775.4 350.8,770.4 355.8,766.0 361.0,762.9 367.4,760.4 375.7,758.4 385.6,757.1 395.6,756.7 410.5,757.3 427.9,759.6 443.9,762.9 487.6,773.8 502.6,776.3 520.0,778.1 520.0,817.9ZM520.0,900.3 434.5,900.3 434.1,897.8 435.4,893.3 437.8,890.3 442.9,887.1 450.3,884.4 457.8,882.7 467.7,881.6 492.6,881.4 520.0,882.7 520.0,900.3Z"/><path d="M520.0,709.6 505.1,708.9 490.1,707.1 477.7,704.6 465.2,700.9 452.8,695.6 444.8,690.5 439.7,685.5 437.1,680.5 520.0,680.5 520.0,709.6ZM520.0,816.8 405.5,813.6 390.6,812.5 376.7,810.4 368.2,808.1 363.2,806.1 357.6,802.9 353.3,799.2 350.3,795.4 348.1,790.4 347.3,785.4 347.8,780.4 349.6,775.4 353.1,770.4 358.2,766.2 363.2,763.4 370.7,760.8 378.1,759.1 395.6,757.6 410.5,758.2 427.5,760.4 442.9,763.6 487.6,774.8 502.6,777.4 520.0,779.1 520.0,816.8ZM520.0,900.3 437.1,900.3 436.8,897.8 437.3,895.3 438.7,892.8 441.2,890.3 445.3,887.8 452.8,885.2 460.3,883.7 470.2,882.6 495.1,882.4 520.0,883.6 520.0,900.3Z"/><path d="M520.0,708.7 505.1,708.0 492.6,706.5 480.2,704.2 467.3,700.5 455.5,695.5 447.5,690.5 442.3,685.5 439.8,680.5 520.0,680.5 520.0,708.7ZM520.0,815.7 408.0,812.7 390.6,811.4 378.1,809.5 371.9,807.9 365.2,805.4 360.5,802.9 354.5,797.9 352.6,795.4 350.2,790.4 349.3,785.4 349.8,780.4 351.7,775.4 355.5,770.4 360.7,766.4 365.7,763.9 373.2,761.3 380.6,759.8 398.1,758.6 413.0,759.4 427.9,761.4 445.3,765.2 487.6,775.9 505.1,778.8 520.0,780.2 520.0,815.7ZM520.0,900.3 439.8,900.3 439.6,897.8 440.2,895.3 441.9,892.8 444.8,890.3 449.7,887.8 455.3,886.0 462.8,884.6 472.7,883.6 495.1,883.4 520.0,884.5 520.0,900.3Z"/><path d="M520.0,707.8 505.1,707.0 492.6,705.6 480.2,703.1 470.2,700.3 458.5,695.5 450.2,690.5 444.9,685.5 442.5,680.5 520.0,680.5 520.0,707.8ZM520.0,814.5 410.5,811.8 393.1,810.7 380.6,808.8 373.2,806.9 365.7,804.0 360.7,801.1 356.9,797.9 354.8,795.4 352.2,790.4 351.3,785.4 351.8,780.4 353.3,776.6 355.6,772.9 360.7,768.3 368.2,764.3 378.1,761.4 390.6,759.8 403.0,759.6 418.0,760.9 432.9,763.3 487.6,777.0 502.6,779.6 520.0,781.4 520.0,814.5ZM520.0,900.3 442.5,900.3 442.5,897.8 443.3,895.3 445.2,892.8 447.8,890.9 452.8,888.5 457.8,886.9 465.2,885.5 475.2,884.5 497.6,884.4 520.0,885.5 520.0,900.3Z"/><path d="M520.0,706.8 505.1,706.1 492.6,704.5 482.7,702.6 470.2,699.0 461.6,695.5 453.0,690.5 447.7,685.5 445.4,680.5 520.0,680.5 520.0,706.8ZM520.0,813.3 413.0,811.0 395.6,809.9 383.1,808.1 375.7,806.3 368.2,803.6 363.2,800.8 359.5,797.9 357.2,795.4 354.4,790.4 353.4,785.4 353.9,780.4 356.1,775.4 360.7,770.3 368.2,765.8 378.1,762.6 390.6,760.8 403.0,760.6 415.5,761.5 430.4,763.8 490.1,778.6 505.1,781.1 520.0,782.6 520.0,813.3ZM520.0,900.3 445.4,900.3 445.5,897.8 446.5,895.3 447.8,893.8 450.3,891.8 455.3,889.4 460.4,887.8 467.7,886.5 487.6,885.3 520.0,886.5 520.0,900.3Z"/><path d="M520.0,705.8 507.6,705.3 492.6,703.5 480.2,700.8 470.9,698.0 464.8,695.5 455.9,690.5 450.6,685.5 449.1,683.0 448.4,680.5 520.0,680.5 520.0,705.8ZM520.0,812.0 415.5,810.1 398.1,809.0 385.6,807.4 377.1,805.4 370.7,803.1 365.5,800.4 362.1,797.9 359.6,795.4 356.6,790.4 355.8,787.4 355.5,782.9 357.0,777.9 360.7,772.6 367.2,767.9 375.7,764.5 385.6,762.5 398.1,761.6 410.5,762.0 425.4,763.9 444.2,767.9 487.6,779.3 502.6,782.0 520.0,783.8 520.0,812.0ZM520.0,900.3 448.4,900.3 448.6,897.8 450.0,895.3 452.7,892.8 457.8,890.3 470.2,887.5 490.1,886.4 520.0,887.4 520.0,900.3Z"/><path d="M520.0,704.8 507.6,704.3 495.9,703.0 483.3,700.5 474.7,698.0 467.7,695.3 459.0,690.5 453.5,685.5 452.1,683.0 451.5,680.5 520.0,680.5 520.0,704.8ZM520.0,810.6 415.5,809.1 400.5,808.2 388.1,806.6 380.6,805.0 373.9,802.9 368.6,800.4 364.9,797.9 362.2,795.4 358.9,790.4 358.0,787.9 357.7,782.9 359.2,777.9 363.2,772.7 370.5,767.9 378.1,765.2 388.1,763.3 400.5,762.6 413.0,763.2 425.4,764.9 440.4,768.0 472.7,776.9 490.1,781.1 505.1,783.6 520.0,785.2 520.0,810.6ZM520.0,900.3 451.5,900.3 452.0,897.8 453.6,895.3 457.1,892.8 463.4,890.3 475.2,888.2 492.6,887.5 520.0,888.5 520.0,900.3Z"/><path d="M520.0,703.8 507.6,703.3 495.1,701.7 485.2,699.7 475.2,696.7 466.4,693.0 459.0,688.0 456.7,685.5 455.2,683.0 454.8,680.5 520.0,680.5 520.0,703.8ZM520.0,809.1 420.5,808.2 403.0,807.4 390.6,805.9 378.0,802.9 372.0,800.4 367.8,797.9 364.8,795.4 361.2,790.4 360.3,787.9 359.9,782.9 361.6,777.9 365.7,772.9 373.2,768.3 380.6,765.8 390.6,764.1 400.5,763.6 410.5,764.0 422.9,765.5 442.9,769.7 487.6,781.9 502.6,784.7 520.0,786.7 520.0,809.1ZM520.0,900.3 454.8,900.3 455.5,897.8 457.7,895.3 461.9,892.8 465.2,891.7 477.7,889.3 495.1,888.6 520.0,889.5 520.0,900.3Z"/><path d="M520.0,702.7 507.6,702.1 495.1,700.6 483.4,698.0 475.7,695.5 470.0,693.0 462.3,688.0 459.9,685.5 458.6,683.0 458.4,680.5 520.0,680.5 520.0,702.7ZM520.0,807.4 422.9,807.2 405.5,806.5 393.1,805.1 380.6,802.3 375.6,800.4 370.7,797.8 367.6,795.4 363.6,790.4 362.6,787.9 362.2,782.9 364.0,777.9 368.5,772.9 373.2,770.0 380.6,767.2 390.6,765.3 400.5,764.7 413.0,765.2 422.9,766.5 441.4,770.4 472.7,779.5 490.1,783.9 505.1,786.7 520.0,788.4 520.0,807.4ZM520.0,900.3 458.4,900.3 459.4,897.8 462.1,895.3 467.7,892.8 480.2,890.5 495.1,889.8 520.0,890.6 520.0,900.3Z"/><path d="M520.0,701.6 500.1,700.2 488.5,698.0 480.0,695.5 473.8,693.0 465.7,688.0 463.4,685.5 462.2,683.0 462.2,680.5 520.0,680.5 520.0,701.6ZM517.5,805.4 425.4,806.1 408.0,805.6 395.6,804.3 388.0,802.9 380.6,800.8 374.2,797.9 370.7,795.6 366.1,790.4 365.1,787.9 364.6,782.9 366.6,777.9 370.7,773.6 376.0,770.4 383.1,767.9 390.6,766.5 400.5,765.8 410.5,766.1 420.5,767.2 440.4,771.3 475.2,781.7 492.6,786.1 507.6,788.9 520.0,790.4 520.0,805.4 517.5,805.4ZM520.0,900.3 462.2,900.3 463.6,897.8 465.2,896.6 467.2,895.3 472.7,893.4 482.7,891.7 497.6,891.0 520.0,891.8 520.0,900.3Z"/><path d="M520.0,700.4 507.6,699.8 497.6,698.5 487.6,696.3 480.2,693.8 473.1,690.5 469.5,688.0 467.2,685.5 466.1,683.0 466.4,680.5 520.0,680.5 520.0,700.4ZM515.0,802.9 430.4,805.0 413.0,804.7 398.1,803.4 384.0,800.4 377.7,797.9 373.6,795.4 368.8,790.4 367.6,787.9 367.2,782.9 369.3,777.9 371.5,775.4 375.7,772.5 383.1,769.4 390.6,767.8 398.1,767.1 408.0,767.1 418.0,767.9 430.4,770.1 442.0,772.9 477.7,784.1 495.1,788.8 520.0,793.2 520.0,802.5 515.0,802.9ZM520.0,900.3 466.4,900.3 468.4,897.8 470.2,896.8 473.3,895.3 477.7,894.2 486.5,892.8 500.1,892.3 520.0,893.0 520.0,900.3Z"/><path d="M520.0,699.0 510.0,698.6 500.1,697.5 490.4,695.5 482.7,693.0 477.3,690.5 473.6,688.0 471.4,685.5 470.4,683.0 471.1,680.5 520.0,680.5 520.0,699.0ZM457.8,803.0 432.9,803.8 415.5,803.7 403.0,802.8 390.6,800.7 381.7,797.9 376.9,795.4 373.7,792.9 370.3,787.9 369.8,782.9 370.6,780.4 372.1,777.9 374.6,775.4 378.5,772.9 384.9,770.4 398.1,768.3 405.5,768.1 415.5,768.8 427.9,770.8 446.2,775.4 507.0,795.4 509.3,797.9 497.1,800.4 457.8,803.0ZM520.0,900.3 471.1,900.3 474.0,897.8 481.4,895.3 490.1,894.2 502.6,893.7 520.0,894.4 520.0,900.3Z"/><path d="M520.0,697.6 502.6,696.3 488.1,693.0 482.2,690.5 478.2,688.0 475.9,685.5 475.3,683.0 476.6,680.5 520.0,680.5 520.0,697.6ZM467.7,800.4 445.3,802.1 425.4,802.7 410.5,802.2 395.6,800.4 385.6,797.7 380.6,795.4 376.9,792.9 374.6,790.4 373.1,787.9 372.5,785.4 372.6,782.9 373.4,780.4 375.2,777.9 378.1,775.4 385.6,771.9 391.5,770.4 398.1,769.6 405.5,769.4 415.5,770.0 432.9,773.1 456.7,780.4 481.6,790.4 486.3,792.9 488.3,795.4 484.2,797.9 467.7,800.4ZM520.0,900.3 476.6,900.3 481.1,897.8 487.6,896.3 495.1,895.4 505.1,895.2 520.0,895.8 520.0,900.3Z"/><path d="M520.0,695.9 507.6,695.4 494.8,693.0 487.8,690.5 483.5,688.0 481.3,685.5 481.0,683.0 483.4,680.5 520.0,680.5 520.0,695.9ZM445.3,800.6 430.4,801.2 415.5,801.2 403.0,800.2 393.1,798.3 385.6,795.8 380.5,792.9 377.8,790.4 376.2,787.9 375.4,785.4 375.6,782.9 376.6,780.4 378.6,777.9 382.0,775.4 387.9,772.9 400.5,770.8 413.0,771.0 426.1,772.9 444.8,777.9 463.9,785.4 473.1,790.4 475.5,792.9 474.5,795.4 467.2,797.9 445.3,800.6ZM520.0,900.3 483.4,900.3 491.7,897.8 505.1,896.9 520.0,897.5 520.0,900.3Z"/><path d="M520.0,693.9 505.1,693.0 495.0,690.5 490.0,688.0 487.8,685.5 488.3,683.0 493.4,680.5 520.0,680.5 520.0,693.9ZM450.3,798.2 435.4,799.6 422.9,799.9 410.5,799.5 398.1,797.9 389.5,795.4 383.1,791.9 379.5,787.9 378.7,785.4 378.8,782.9 380.0,780.4 383.1,777.4 388.1,774.8 395.6,772.9 403.0,772.2 410.5,772.2 418.0,772.9 427.9,774.7 439.7,777.9 452.9,782.9 462.3,787.9 465.2,790.4 465.9,792.9 462.7,795.4 450.3,798.2ZM520.0,900.3 493.4,900.3 507.6,899.0 520.0,899.5 520.0,900.3Z"/><path d="M520.0,691.2 506.9,690.5 499.2,688.0 496.9,685.5 500.0,683.0 502.6,682.5 510.0,682.0 520.0,682.4 520.0,691.2ZM435.4,797.9 422.9,798.4 413.0,798.2 403.0,797.1 395.3,795.4 389.0,792.9 385.2,790.4 383.1,787.9 382.2,785.4 382.4,782.9 383.8,780.4 386.8,777.9 393.1,775.3 403.0,773.8 415.5,774.2 427.9,776.3 441.4,780.4 452.2,785.4 455.7,787.9 457.5,790.4 456.6,792.9 451.3,795.4 435.4,797.9Z"/><path d="M437.9,795.5 427.9,796.5 418.0,796.7 408.0,796.0 400.5,794.7 394.5,792.9 389.8,790.4 387.3,787.9 386.3,785.4 386.6,782.9 388.4,780.4 392.4,777.9 400.5,775.8 413.0,775.5 427.3,777.9 435.5,780.4 441.5,782.9 446.0,785.4 448.8,787.9 449.6,790.4 447.1,792.9 437.9,795.5Z"/><path d="M435.4,793.0 427.9,794.2 420.5,794.7 413.0,794.5 405.5,793.6 402.2,792.9 395.5,790.4 392.3,787.9 391.1,785.4 391.6,782.9 394.2,780.4 400.5,778.1 408.0,777.4 418.0,778.1 428.3,780.4 434.9,782.9 439.2,785.4 441.4,787.9 441.0,790.4 435.4,793.0Z"/><path d="M427.9,790.9 418.0,792.1 408.0,791.3 404.1,790.4 400.5,788.7 399.1,787.9 397.5,785.4 398.6,782.9 404.5,780.4 410.5,780.0 416.8,780.4 426.4,782.9 431.0,785.4 432.5,787.9 429.8,790.4 427.9,790.9Z"/></g></g><g clip-path="url(#mclip)"><g transform="translate(422.9,695.4) rotate(31)"><text x="0" y="4.3" font-size="12.5" text-anchor="middle" font-family="'Liberation Sans', sans-serif">0.4</text></g><g transform="translate(422.6,710.9) rotate(22)"><text x="0" y="4.3" font-size="12.5" text-anchor="middle" font-family="'Liberation Sans', sans-serif">0.2</text></g><g transform="translate(409.1,734.9) rotate(0)"><text x="0" y="4.3" font-size="12.5" text-anchor="middle" font-family="'Liberation Sans', sans-serif">0.2</text></g><g transform="translate(386.5,745.7) rotate(0)"><text x="0" y="4.3" font-size="12.5" text-anchor="middle" font-family="'Liberation Sans', sans-serif">0.4</text></g><g transform="translate(312.0,744.2) rotate(-50)"><text x="0" y="4.3" font-size="12.5" text-anchor="middle" font-family="'Liberation Sans', sans-serif">0.2</text></g><g transform="translate(437.8,758.9) rotate(8)"><text x="0" y="4.3" font-size="12.5" text-anchor="middle" font-family="'Liberation Sans', sans-serif">0.6</text></g><g transform="translate(420.3,765.9) rotate(5)"><text x="0" y="4.3" font-size="12.5" text-anchor="middle" font-family="'Liberation Sans', sans-serif">0.8</text></g><g transform="translate(483.9,761.7) rotate(12)"><text x="0" y="4.3" font-size="12.5" text-anchor="middle" font-family="'Liberation Sans', sans-serif">0.4</text></g><g transform="translate(507.4,754.2) rotate(12)"><text x="0" y="4.3" font-size="12.5" text-anchor="middle" font-family="'Liberation Sans', sans-serif">0.2</text></g><g transform="translate(345.8,776.9) rotate(-57)"><text x="0" y="4.3" font-size="12.5" text-anchor="middle" font-family="'Liberation Sans', sans-serif">0.6</text></g><g transform="translate(373.1,770.9) rotate(-25)"><text x="0" y="4.3" font-size="12.5" text-anchor="middle" font-family="'Liberation Sans', sans-serif">0.8</text></g><g transform="translate(327.8,802.5) rotate(54)"><text x="0" y="4.3" font-size="12.5" text-anchor="middle" font-family="'Liberation Sans', sans-serif">0.4</text></g><g transform="translate(438.5,804.7) rotate(0)"><text x="0" y="4.3" font-size="12.5" text-anchor="middle" font-family="'Liberation Sans', sans-serif">0.8</text></g><g transform="translate(420.4,814.4) rotate(0)"><text x="0" y="4.3" font-size="12.5" text-anchor="middle" font-family="'Liberation Sans', sans-serif">0.6</text></g><g transform="translate(420.4,827.4) rotate(0)"><text x="0" y="4.3" font-size="12.5" text-anchor="middle" font-family="'Liberation Sans', sans-serif">0.4</text></g><g transform="translate(420.1,838.4) rotate(0)"><text x="0" y="4.3" font-size="12.5" text-anchor="middle" font-family="'Liberation Sans', sans-serif">0.2</text></g><g transform="translate(320.2,835.3) rotate(18)"><text x="0" y="4.3" font-size="12.5" text-anchor="middle" font-family="'Liberation Sans', sans-serif">0.2</text></g><g transform="translate(457.3,854.9) rotate(0)"><text x="0" y="4.3" font-size="12.5" text-anchor="middle" font-family="'Liberation Sans', sans-serif">0.2</text></g><g transform="translate(490.3,869.4) rotate(0)"><text x="0" y="4.3" font-size="12.5" text-anchor="middle" font-family="'Liberation Sans', sans-serif">0.4</text></g><polygon points="344.1,684.8 345.9,690.1 351.5,690.2 347.0,693.6 348.7,698.9 344.1,695.7 339.5,698.9 341.2,693.6 336.7,690.2 342.3,690.1" fill="#000"/></g>
<rect x="300.5" y="680.0" width="220" height="220.5" fill="none" stroke="#000" stroke-width="2.5"/>
<line x1="301.0" y1="671.0" x2="301.0" y2="679.0" stroke="#000" stroke-width="1.2" shape-rendering="crispEdges"/>
<line x1="301.0" y1="901.5" x2="301.0" y2="909.5" stroke="#000" stroke-width="1.2" shape-rendering="crispEdges"/>
<line x1="308.3" y1="675.0" x2="308.3" y2="679.0" stroke="#000" stroke-width="1.2" shape-rendering="crispEdges"/>
<line x1="308.3" y1="901.5" x2="308.3" y2="905.5" stroke="#000" stroke-width="1.2" shape-rendering="crispEdges"/>
<line x1="315.6" y1="675.0" x2="315.6" y2="679.0" stroke="#000" stroke-width="1.2" shape-rendering="crispEdges"/>
<line x1="315.6" y1="901.5" x2="315.6" y2="905.5" stroke="#000" stroke-width="1.2" shape-rendering="crispEdges"/>
<line x1="322.9" y1="675.0" x2="322.9" y2="679.0" stroke="#000" stroke-width="1.2" shape-rendering="crispEdges"/>
<line x1="322.9" y1="901.5" x2="322.9" y2="905.5" stroke="#000" stroke-width="1.2" shape-rendering="crispEdges"/>
<line x1="330.2" y1="675.0" x2="330.2" y2="679.0" stroke="#000" stroke-width="1.2" shape-rendering="crispEdges"/>
<line x1="330.2" y1="901.5" x2="330.2" y2="905.5" stroke="#000" stroke-width="1.2" shape-rendering="crispEdges"/>
<line x1="337.5" y1="671.0" x2="337.5" y2="679.0" stroke="#000" stroke-width="1.2" shape-rendering="crispEdges"/>
<line x1="337.5" y1="901.5" x2="337.5" y2="909.5" stroke="#000" stroke-width="1.2" shape-rendering="crispEdges"/>
<line x1="344.8" y1="675.0" x2="344.8" y2="679.0" stroke="#000" stroke-width="1.2" shape-rendering="crispEdges"/>
<line x1="344.8" y1="901.5" x2="344.8" y2="905.5" stroke="#000" stroke-width="1.2" shape-rendering="crispEdges"/>
<line x1="352.1" y1="675.0" x2="352.1" y2="679.0" stroke="#000" stroke-width="1.2" shape-rendering="crispEdges"/>
<line x1="352.1" y1="901.5" x2="352.1" y2="905.5" stroke="#000" stroke-width="1.2" shape-rendering="crispEdges"/>
<line x1="359.4" y1="675.0" x2="359.4" y2="679.0" stroke="#000" stroke-width="1.2" shape-rendering="crispEdges"/>
<line x1="359.4" y1="901.5" x2="359.4" y2="905.5" stroke="#000" stroke-width="1.2" shape-rendering="crispEdges"/>
<line x1="366.7" y1="675.0" x2="366.7" y2="679.0" stroke="#000" stroke-width="1.2" shape-rendering="crispEdges"/>
<line x1="366.7" y1="901.5" x2="366.7" y2="905.5" stroke="#000" stroke-width="1.2" shape-rendering="crispEdges"/>
<line x1="374.0" y1="671.0" x2="374.0" y2="679.0" stroke="#000" stroke-width="1.2" shape-rendering="crispEdges"/>
<line x1="374.0" y1="901.5" x2="374.0" y2="909.5" stroke="#000" stroke-width="1.2" shape-rendering="crispEdges"/>
<line x1="381.3" y1="675.0" x2="381.3" y2="679.0" stroke="#000" stroke-width="1.2" shape-rendering="crispEdges"/>
<line x1="381.3" y1="901.5" x2="381.3" y2="905.5" stroke="#000" stroke-width="1.2" shape-rendering="crispEdges"/>
<line x1="388.6" y1="675.0" x2="388.6" y2="679.0" stroke="#000" stroke-width="1.2" shape-rendering="crispEdges"/>
<line x1="388.6" y1="901.5" x2="388.6" y2="905.5" stroke="#000" stroke-width="1.2" shape-rendering="crispEdges"/>
<line x1="395.9" y1="675.0" x2="395.9" y2="679.0" stroke="#000" stroke-width="1.2" shape-rendering="crispEdges"/>
<line x1="395.9" y1="901.5" x2="395.9" y2="905.5" stroke="#000" stroke-width="1.2" shape-rendering="crispEdges"/>
<line x1="403.2" y1="675.0" x2="403.2" y2="679.0" stroke="#000" stroke-width="1.2" shape-rendering="crispEdges"/>
<line x1="403.2" y1="901.5" x2="403.2" y2="905.5" stroke="#000" stroke-width="1.2" shape-rendering="crispEdges"/>
<line x1="410.5" y1="671.0" x2="410.5" y2="679.0" stroke="#000" stroke-width="1.2" shape-rendering="crispEdges"/>
<line x1="410.5" y1="901.5" x2="410.5" y2="909.5" stroke="#000" stroke-width="1.2" shape-rendering="crispEdges"/>
<line x1="417.8" y1="675.0" x2="417.8" y2="679.0" stroke="#000" stroke-width="1.2" shape-rendering="crispEdges"/>
<line x1="417.8" y1="901.5" x2="417.8" y2="905.5" stroke="#000" stroke-width="1.2" shape-rendering="crispEdges"/>
<line x1="425.1" y1="675.0" x2="425.1" y2="679.0" stroke="#000" stroke-width="1.2" shape-rendering="crispEdges"/>
<line x1="425.1" y1="901.5" x2="425.1" y2="905.5" stroke="#000" stroke-width="1.2" shape-rendering="crispEdges"/>
<line x1="432.4" y1="675.0" x2="432.4" y2="679.0" stroke="#000" stroke-width="1.2" shape-rendering="crispEdges"/>
<line x1="432.4" y1="901.5" x2="432.4" y2="905.5" stroke="#000" stroke-width="1.2" shape-rendering="crispEdges"/>
<line x1="439.7" y1="675.0" x2="439.7" y2="679.0" stroke="#000" stroke-width="1.2" shape-rendering="crispEdges"/>
<line x1="439.7" y1="901.5" x2="439.7" y2="905.5" stroke="#000" stroke-width="1.2" shape-rendering="crispEdges"/>
<line x1="447.0" y1="671.0" x2="447.0" y2="679.0" stroke="#000" stroke-width="1.2" shape-rendering="crispEdges"/>
<line x1="447.0" y1="901.5" x2="447.0" y2="909.5" stroke="#000" stroke-width="1.2" shape-rendering="crispEdges"/>
<line x1="454.3" y1="675.0" x2="454.3" y2="679.0" stroke="#000" stroke-width="1.2" shape-rendering="crispEdges"/>
<line x1="454.3" y1="901.5" x2="454.3" y2="905.5" stroke="#000" stroke-width="1.2" shape-rendering="crispEdges"/>
<line x1="461.6" y1="675.0" x2="461.6" y2="679.0" stroke="#000" stroke-width="1.2" shape-rendering="crispEdges"/>
<line x1="461.6" y1="901.5" x2="461.6" y2="905.5" stroke="#000" stroke-width="1.2" shape-rendering="crispEdges"/>
<line x1="468.9" y1="675.0" x2="468.9" y2="679.0" stroke="#000" stroke-width="1.2" shape-rendering="crispEdges"/>
<line x1="468.9" y1="901.5" x2="468.9" y2="905.5" stroke="#000" stroke-width="1.2" shape-rendering="crispEdges"/>
<line x1="476.2" y1="675.0" x2="476.2" y2="679.0" stroke="#000" stroke-width="1.2" shape-rendering="crispEdges"/>
<line x1="476.2" y1="901.5" x2="476.2" y2="905.5" stroke="#000" stroke-width="1.2" shape-rendering="crispEdges"/>
<line x1="483.5" y1="671.0" x2="483.5" y2="679.0" stroke="#000" stroke-width="1.2" shape-rendering="crispEdges"/>
<line x1="483.5" y1="901.5" x2="483.5" y2="909.5" stroke="#000" stroke-width="1.2" shape-rendering="crispEdges"/>
<line x1="490.8" y1="675.0" x2="490.8" y2="679.0" stroke="#000" stroke-width="1.2" shape-rendering="crispEdges"/>
<line x1="490.8" y1="901.5" x2="490.8" y2="905.5" stroke="#000" stroke-width="1.2" shape-rendering="crispEdges"/>
<line x1="498.1" y1="675.0" x2="498.1" y2="679.0" stroke="#000" stroke-width="1.2" shape-rendering="crispEdges"/>
<line x1="498.1" y1="901.5" x2="498.1" y2="905.5" stroke="#000" stroke-width="1.2" shape-rendering="crispEdges"/>
<line x1="505.4" y1="675.0" x2="505.4" y2="679.0" stroke="#000" stroke-width="1.2" shape-rendering="crispEdges"/>
<line x1="505.4" y1="901.5" x2="505.4" y2="905.5" stroke="#000" stroke-width="1.2" shape-rendering="crispEdges"/>
<line x1="512.7" y1="675.0" x2="512.7" y2="679.0" stroke="#000" stroke-width="1.2" shape-rendering="crispEdges"/>
<line x1="512.7" y1="901.5" x2="512.7" y2="905.5" stroke="#000" stroke-width="1.2" shape-rendering="crispEdges"/>
<line x1="520.0" y1="671.0" x2="520.0" y2="679.0" stroke="#000" stroke-width="1.2" shape-rendering="crispEdges"/>
<line x1="520.0" y1="901.5" x2="520.0" y2="909.5" stroke="#000" stroke-width="1.2" shape-rendering="crispEdges"/>
<line x1="291.5" y1="680.5" x2="299.5" y2="680.5" stroke="#000" stroke-width="1.2" shape-rendering="crispEdges"/>
<line x1="521.5" y1="680.5" x2="529.5" y2="680.5" stroke="#000" stroke-width="1.2" shape-rendering="crispEdges"/>
<line x1="295.5" y1="692.7" x2="299.5" y2="692.7" stroke="#000" stroke-width="1.2" shape-rendering="crispEdges"/>
<line x1="521.5" y1="692.7" x2="525.5" y2="692.7" stroke="#000" stroke-width="1.2" shape-rendering="crispEdges"/>
<line x1="295.5" y1="704.9" x2="299.5" y2="704.9" stroke="#000" stroke-width="1.2" shape-rendering="crispEdges"/>
<line x1="521.5" y1="704.9" x2="525.5" y2="704.9" stroke="#000" stroke-width="1.2" shape-rendering="crispEdges"/>
<line x1="291.5" y1="717.1" x2="299.5" y2="717.1" stroke="#000" stroke-width="1.2" shape-rendering="crispEdges"/>
<line x1="521.5" y1="717.1" x2="529.5" y2="717.1" stroke="#000" stroke-width="1.2" shape-rendering="crispEdges"/>
<line x1="295.5" y1="729.3" x2="299.5" y2="729.3" stroke="#000" stroke-width="1.2" shape-rendering="crispEdges"/>
<line x1="521.5" y1="729.3" x2="525.5" y2="729.3" stroke="#000" stroke-width="1.2" shape-rendering="crispEdges"/>
<line x1="295.5" y1="741.5" x2="299.5" y2="741.5" stroke="#000" stroke-width="1.2" shape-rendering="crispEdges"/>
<line x1="521.5" y1="741.5" x2="525.5" y2="741.5" stroke="#000" stroke-width="1.2" shape-rendering="crispEdges"/>
<line x1="291.5" y1="753.7" x2="299.5" y2="753.7" stroke="#000" stroke-width="1.2" shape-rendering="crispEdges"/>
<line x1="521.5" y1="753.7" x2="529.5" y2="753.7" stroke="#000" stroke-width="1.2" shape-rendering="crispEdges"/>
<line x1="295.5" y1="765.9" x2="299.5" y2="765.9" stroke="#000" stroke-width="1.2" shape-rendering="crispEdges"/>
<line x1="521.5" y1="765.9" x2="525.5" y2="765.9" stroke="#000" stroke-width="1.2" shape-rendering="crispEdges"/>
<line x1="295.5" y1="778.1" x2="299.5" y2="778.1" stroke="#000" stroke-width="1.2" shape-rendering="crispEdges"/>
<line x1="521.5" y1="778.1" x2="525.5" y2="778.1" stroke="#000" stroke-width="1.2" shape-rendering="crispEdges"/>
<line x1="291.5" y1="790.2" x2="299.5" y2="790.2" stroke="#000" stroke-width="1.2" shape-rendering="crispEdges"/>
<line x1="521.5" y1="790.2" x2="529.5" y2="790.2" stroke="#000" stroke-width="1.2" shape-rendering="crispEdges"/>
<line x1="295.5" y1="802.4" x2="299.5" y2="802.4" stroke="#000" stroke-width="1.2" shape-rendering="crispEdges"/>
<line x1="521.5" y1="802.4" x2="525.5" y2="802.4" stroke="#000" stroke-width="1.2" shape-rendering="crispEdges"/>
<line x1="295.5" y1="814.6" x2="299.5" y2="814.6" stroke="#000" stroke-width="1.2" shape-rendering="crispEdges"/>
<line x1="521.5" y1="814.6" x2="525.5" y2="814.6" stroke="#000" stroke-width="1.2" shape-rendering="crispEdges"/>
<line x1="291.5" y1="826.8" x2="299.5" y2="826.8" stroke="#000" stroke-width="1.2" shape-rendering="crispEdges"/>
<line x1="521.5" y1="826.8" x2="529.5" y2="826.8" stroke="#000" stroke-width="1.2" shape-rendering="crispEdges"/>
<line x1="295.5" y1="839.0" x2="299.5" y2="839.0" stroke="#000" stroke-width="1.2" shape-rendering="crispEdges"/>
<line x1="521.5" y1="839.0" x2="525.5" y2="839.0" stroke="#000" stroke-width="1.2" shape-rendering="crispEdges"/>
<line x1="295.5" y1="851.2" x2="299.5" y2="851.2" stroke="#000" stroke-width="1.2" shape-rendering="crispEdges"/>
<line x1="521.5" y1="851.2" x2="525.5" y2="851.2" stroke="#000" stroke-width="1.2" shape-rendering="crispEdges"/>
<line x1="291.5" y1="863.4" x2="299.5" y2="863.4" stroke="#000" stroke-width="1.2" shape-rendering="crispEdges"/>
<line x1="521.5" y1="863.4" x2="529.5" y2="863.4" stroke="#000" stroke-width="1.2" shape-rendering="crispEdges"/>
<line x1="295.5" y1="875.6" x2="299.5" y2="875.6" stroke="#000" stroke-width="1.2" shape-rendering="crispEdges"/>
<line x1="521.5" y1="875.6" x2="525.5" y2="875.6" stroke="#000" stroke-width="1.2" shape-rendering="crispEdges"/>
<line x1="295.5" y1="887.8" x2="299.5" y2="887.8" stroke="#000" stroke-width="1.2" shape-rendering="crispEdges"/>
<line x1="521.5" y1="887.8" x2="525.5" y2="887.8" stroke="#000" stroke-width="1.2" shape-rendering="crispEdges"/>
<line x1="291.5" y1="900.0" x2="299.5" y2="900.0" stroke="#000" stroke-width="1.2" shape-rendering="crispEdges"/>
<line x1="521.5" y1="900.0" x2="529.5" y2="900.0" stroke="#000" stroke-width="1.2" shape-rendering="crispEdges"/>
<text x="284.5" y="687.3" font-family='"Liberation Sans", sans-serif' font-size="19" font-weight="normal" fill="#000" text-anchor="end" >90</text>
<text x="284.5" y="723.8833333333333" font-family='"Liberation Sans", sans-serif' font-size="19" font-weight="normal" fill="#000" text-anchor="end" >60</text>
<text x="284.5" y="760.4666666666666" font-family='"Liberation Sans", sans-serif' font-size="19" font-weight="normal" fill="#000" text-anchor="end" >30</text>
<text x="284.5" y="797.05" font-family='"Liberation Sans", sans-serif' font-size="19" font-weight="normal" fill="#000" text-anchor="end" >0</text>
<text x="284.5" y="833.6333333333333" font-family='"Liberation Sans", sans-serif' font-size="19" font-weight="normal" fill="#000" text-anchor="end" >-30</text>
<text x="284.5" y="870.2166666666666" font-family='"Liberation Sans", sans-serif' font-size="19" font-weight="normal" fill="#000" text-anchor="end" >-60</text>
<text x="284.5" y="906.8" font-family='"Liberation Sans", sans-serif' font-size="19" font-weight="normal" fill="#000" text-anchor="end" >-90</text>
<text x="301.0" y="928" font-family='"Liberation Sans", sans-serif' font-size="17.2" font-weight="normal" fill="#000" text-anchor="middle" >0.0</text>
<text x="337.5" y="928" font-family='"Liberation Sans", sans-serif' font-size="17.2" font-weight="normal" fill="#000" text-anchor="middle" >0.5</text>
<text x="374.0" y="928" font-family='"Liberation Sans", sans-serif' font-size="17.2" font-weight="normal" fill="#000" text-anchor="middle" >1.0</text>
<text x="410.5" y="928" font-family='"Liberation Sans", sans-serif' font-size="17.2" font-weight="normal" fill="#000" text-anchor="middle" >1.5</text>
<text x="447.0" y="928" font-family='"Liberation Sans", sans-serif' font-size="17.2" font-weight="normal" fill="#000" text-anchor="middle" >2.0</text>
<text x="483.5" y="928" font-family='"Liberation Sans", sans-serif' font-size="17.2" font-weight="normal" fill="#000" text-anchor="middle" >2.5</text>
<text x="520.0" y="928" font-family='"Liberation Sans", sans-serif' font-size="17.2" font-weight="normal" fill="#000" text-anchor="middle" >3.0</text>
<ellipse cx="297" cy="663.6" rx="3.5" ry="3.9" fill="none" stroke="#000" stroke-width="1.4"/>
<line x1="297.3" y1="657" x2="297.3" y2="671.6" stroke="#000" stroke-width="1.3"/>
<text x="302" y="667.2" font-family='"Liberation Serif", serif' font-size="14" font-weight="bold" fill="#000" text-anchor="start" textLength="104" lengthAdjust="spacingAndGlyphs" >= 79.0 +/- 21.0°</text>
<text x="411.5" y="667.2" font-family='"Liberation Serif", serif' font-size="14" font-weight="bold" fill="#000" text-anchor="start" textLength="115" lengthAdjust="spacingAndGlyphs" >δt= 0.60 +/-0.32s</text>
<text x="351.5" y="954.4" font-family='"Liberation Serif", serif' font-size="15.5" font-weight="bold" fill="#000" text-anchor="start" textLength="117" lengthAdjust="spacingAndGlyphs" >Splitting time (s)</text>
<text transform="translate(247.5,870) rotate(-90)" font-family='"Liberation Serif", serif' font-size="16" font-weight="bold" textLength="160" lengthAdjust="spacingAndGlyphs">Fast direction (degree)</text>
<text x="209" y="980.2" font-family='"Liberation Sans", sans-serif' font-size="19" font-weight="normal" fill="#000" text-anchor="start" textLength="401.5" lengthAdjust="spacingAndGlyphs" >Ror= 7.00; Rot= 2.69; Rct= 1.54; Rct/Rot= 0.57</text>
</svg></body></html>
